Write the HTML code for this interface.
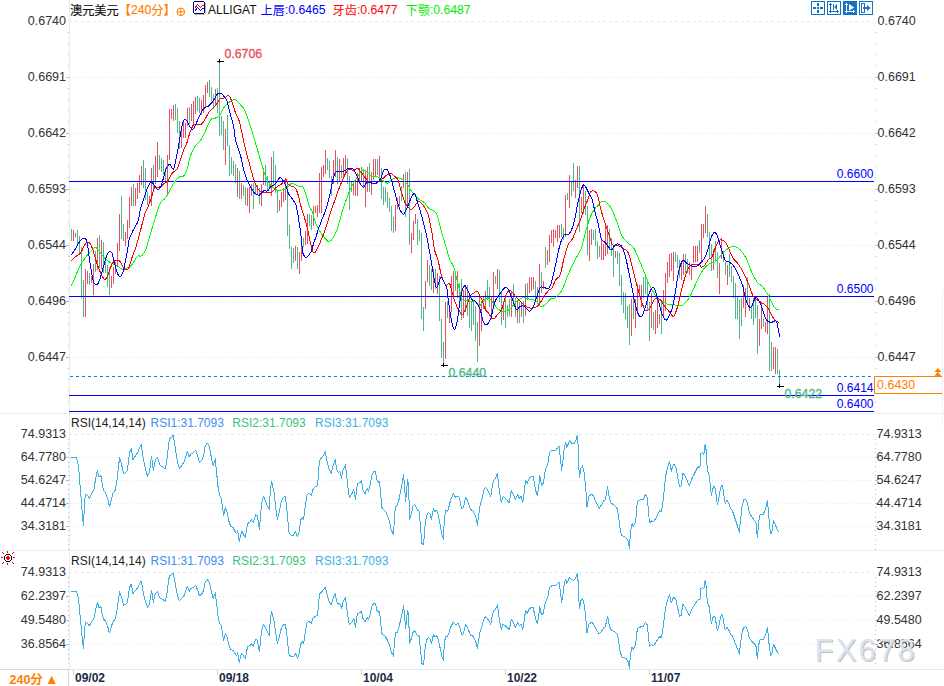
<!DOCTYPE html><html><head><meta charset="utf-8"><style>html,body{margin:0;padding:0;background:#fff;width:944px;height:686px;overflow:hidden;position:relative}</style></head><body><svg width="944" height="686" viewBox="0 0 944 686" style="position:absolute;left:0;top:0">
<rect x="0" y="413" width="944" height="1" fill="#eaeef2"/>
<rect x="0" y="550" width="944" height="1" fill="#eaeef2"/>
<rect x="69" y="669" width="875" height="1" fill="#e3e8ee"/>
<rect x="0" y="669" width="69" height="1" fill="#d3d9e0"/>
<rect x="69" y="0" width="1" height="669" fill="#e6ebf0"/>
<rect x="68" y="670" width="1" height="16" fill="#d3d9e0"/>
<rect x="942" y="289" width="1" height="137" fill="#edf1f5"/>
<line x1="69" y1="21.5" x2="874" y2="21.5" stroke="#e4e9ee" stroke-width="1" stroke-dasharray="3 3" shape-rendering="crispEdges"/>
<line x1="70" y1="77.5" x2="874" y2="77.5" stroke="#e4e9ee" stroke-width="1" stroke-dasharray="1 2" shape-rendering="crispEdges"/>
<line x1="70" y1="133.5" x2="874" y2="133.5" stroke="#e4e9ee" stroke-width="1" stroke-dasharray="1 2" shape-rendering="crispEdges"/>
<line x1="70" y1="189.5" x2="874" y2="189.5" stroke="#e4e9ee" stroke-width="1" stroke-dasharray="1 2" shape-rendering="crispEdges"/>
<line x1="70" y1="245.5" x2="874" y2="245.5" stroke="#e4e9ee" stroke-width="1" stroke-dasharray="1 2" shape-rendering="crispEdges"/>
<line x1="70" y1="301.5" x2="874" y2="301.5" stroke="#e4e9ee" stroke-width="1" stroke-dasharray="1 2" shape-rendering="crispEdges"/>
<line x1="70" y1="357.5" x2="874" y2="357.5" stroke="#e4e9ee" stroke-width="1" stroke-dasharray="1 2" shape-rendering="crispEdges"/>
<rect x="68" y="32" width="1" height="1" fill="#b4bcc4"/>
<rect x="875" y="32" width="1" height="1" fill="#b4bcc4"/>
<rect x="68" y="43" width="1" height="1" fill="#b4bcc4"/>
<rect x="875" y="43" width="1" height="1" fill="#b4bcc4"/>
<rect x="68" y="54" width="1" height="1" fill="#b4bcc4"/>
<rect x="875" y="54" width="1" height="1" fill="#b4bcc4"/>
<rect x="68" y="65" width="1" height="1" fill="#b4bcc4"/>
<rect x="875" y="65" width="1" height="1" fill="#b4bcc4"/>
<rect x="68" y="88" width="1" height="1" fill="#b4bcc4"/>
<rect x="875" y="88" width="1" height="1" fill="#b4bcc4"/>
<rect x="68" y="99" width="1" height="1" fill="#b4bcc4"/>
<rect x="875" y="99" width="1" height="1" fill="#b4bcc4"/>
<rect x="68" y="110" width="1" height="1" fill="#b4bcc4"/>
<rect x="875" y="110" width="1" height="1" fill="#b4bcc4"/>
<rect x="68" y="121" width="1" height="1" fill="#b4bcc4"/>
<rect x="875" y="121" width="1" height="1" fill="#b4bcc4"/>
<rect x="68" y="144" width="1" height="1" fill="#b4bcc4"/>
<rect x="875" y="144" width="1" height="1" fill="#b4bcc4"/>
<rect x="68" y="155" width="1" height="1" fill="#b4bcc4"/>
<rect x="875" y="155" width="1" height="1" fill="#b4bcc4"/>
<rect x="68" y="166" width="1" height="1" fill="#b4bcc4"/>
<rect x="875" y="166" width="1" height="1" fill="#b4bcc4"/>
<rect x="68" y="177" width="1" height="1" fill="#b4bcc4"/>
<rect x="875" y="177" width="1" height="1" fill="#b4bcc4"/>
<rect x="68" y="200" width="1" height="1" fill="#b4bcc4"/>
<rect x="875" y="200" width="1" height="1" fill="#b4bcc4"/>
<rect x="68" y="211" width="1" height="1" fill="#b4bcc4"/>
<rect x="875" y="211" width="1" height="1" fill="#b4bcc4"/>
<rect x="68" y="222" width="1" height="1" fill="#b4bcc4"/>
<rect x="875" y="222" width="1" height="1" fill="#b4bcc4"/>
<rect x="68" y="233" width="1" height="1" fill="#b4bcc4"/>
<rect x="875" y="233" width="1" height="1" fill="#b4bcc4"/>
<rect x="68" y="256" width="1" height="1" fill="#b4bcc4"/>
<rect x="875" y="256" width="1" height="1" fill="#b4bcc4"/>
<rect x="68" y="267" width="1" height="1" fill="#b4bcc4"/>
<rect x="875" y="267" width="1" height="1" fill="#b4bcc4"/>
<rect x="68" y="278" width="1" height="1" fill="#b4bcc4"/>
<rect x="875" y="278" width="1" height="1" fill="#b4bcc4"/>
<rect x="68" y="289" width="1" height="1" fill="#b4bcc4"/>
<rect x="875" y="289" width="1" height="1" fill="#b4bcc4"/>
<rect x="68" y="312" width="1" height="1" fill="#b4bcc4"/>
<rect x="875" y="312" width="1" height="1" fill="#b4bcc4"/>
<rect x="68" y="323" width="1" height="1" fill="#b4bcc4"/>
<rect x="875" y="323" width="1" height="1" fill="#b4bcc4"/>
<rect x="68" y="334" width="1" height="1" fill="#b4bcc4"/>
<rect x="875" y="334" width="1" height="1" fill="#b4bcc4"/>
<rect x="68" y="345" width="1" height="1" fill="#b4bcc4"/>
<rect x="875" y="345" width="1" height="1" fill="#b4bcc4"/>
<rect x="68" y="368" width="1" height="1" fill="#b4bcc4"/>
<rect x="875" y="368" width="1" height="1" fill="#b4bcc4"/>
<rect x="68" y="379" width="1" height="1" fill="#b4bcc4"/>
<rect x="875" y="379" width="1" height="1" fill="#b4bcc4"/>
<rect x="68" y="390" width="1" height="1" fill="#b4bcc4"/>
<rect x="875" y="390" width="1" height="1" fill="#b4bcc4"/>
<rect x="68" y="401" width="1" height="1" fill="#b4bcc4"/>
<rect x="875" y="401" width="1" height="1" fill="#b4bcc4"/>
<rect x="66" y="77" width="3" height="1" fill="#b4bcc4"/>
<rect x="875" y="77" width="3" height="1" fill="#b4bcc4"/>
<rect x="66" y="133" width="3" height="1" fill="#b4bcc4"/>
<rect x="875" y="133" width="3" height="1" fill="#b4bcc4"/>
<rect x="66" y="189" width="3" height="1" fill="#b4bcc4"/>
<rect x="875" y="189" width="3" height="1" fill="#b4bcc4"/>
<rect x="66" y="245" width="3" height="1" fill="#b4bcc4"/>
<rect x="875" y="245" width="3" height="1" fill="#b4bcc4"/>
<rect x="66" y="301" width="3" height="1" fill="#b4bcc4"/>
<rect x="875" y="301" width="3" height="1" fill="#b4bcc4"/>
<rect x="66" y="357" width="3" height="1" fill="#b4bcc4"/>
<rect x="875" y="357" width="3" height="1" fill="#b4bcc4"/>
<line x1="69" y1="434.5" x2="874" y2="434.5" stroke="#e4e9ee" stroke-width="1" stroke-dasharray="3 3" shape-rendering="crispEdges"/>
<line x1="70" y1="457.5" x2="874" y2="457.5" stroke="#e4e9ee" stroke-width="1" stroke-dasharray="1 2" shape-rendering="crispEdges"/>
<line x1="70" y1="480.5" x2="874" y2="480.5" stroke="#e4e9ee" stroke-width="1" stroke-dasharray="1 2" shape-rendering="crispEdges"/>
<line x1="70" y1="503.5" x2="874" y2="503.5" stroke="#e4e9ee" stroke-width="1" stroke-dasharray="1 2" shape-rendering="crispEdges"/>
<line x1="70" y1="526.5" x2="874" y2="526.5" stroke="#e4e9ee" stroke-width="1" stroke-dasharray="1 2" shape-rendering="crispEdges"/>
<rect x="68" y="439" width="1" height="1" fill="#b4bcc4"/>
<rect x="875" y="439" width="1" height="1" fill="#b4bcc4"/>
<rect x="68" y="443" width="1" height="1" fill="#b4bcc4"/>
<rect x="875" y="443" width="1" height="1" fill="#b4bcc4"/>
<rect x="68" y="448" width="1" height="1" fill="#b4bcc4"/>
<rect x="875" y="448" width="1" height="1" fill="#b4bcc4"/>
<rect x="68" y="452" width="1" height="1" fill="#b4bcc4"/>
<rect x="875" y="452" width="1" height="1" fill="#b4bcc4"/>
<rect x="68" y="462" width="1" height="1" fill="#b4bcc4"/>
<rect x="875" y="462" width="1" height="1" fill="#b4bcc4"/>
<rect x="68" y="466" width="1" height="1" fill="#b4bcc4"/>
<rect x="875" y="466" width="1" height="1" fill="#b4bcc4"/>
<rect x="68" y="471" width="1" height="1" fill="#b4bcc4"/>
<rect x="875" y="471" width="1" height="1" fill="#b4bcc4"/>
<rect x="68" y="475" width="1" height="1" fill="#b4bcc4"/>
<rect x="875" y="475" width="1" height="1" fill="#b4bcc4"/>
<rect x="68" y="484" width="1" height="1" fill="#b4bcc4"/>
<rect x="875" y="484" width="1" height="1" fill="#b4bcc4"/>
<rect x="68" y="489" width="1" height="1" fill="#b4bcc4"/>
<rect x="875" y="489" width="1" height="1" fill="#b4bcc4"/>
<rect x="68" y="494" width="1" height="1" fill="#b4bcc4"/>
<rect x="875" y="494" width="1" height="1" fill="#b4bcc4"/>
<rect x="68" y="498" width="1" height="1" fill="#b4bcc4"/>
<rect x="875" y="498" width="1" height="1" fill="#b4bcc4"/>
<rect x="68" y="507" width="1" height="1" fill="#b4bcc4"/>
<rect x="875" y="507" width="1" height="1" fill="#b4bcc4"/>
<rect x="68" y="512" width="1" height="1" fill="#b4bcc4"/>
<rect x="875" y="512" width="1" height="1" fill="#b4bcc4"/>
<rect x="68" y="517" width="1" height="1" fill="#b4bcc4"/>
<rect x="875" y="517" width="1" height="1" fill="#b4bcc4"/>
<rect x="68" y="521" width="1" height="1" fill="#b4bcc4"/>
<rect x="875" y="521" width="1" height="1" fill="#b4bcc4"/>
<rect x="68" y="530" width="1" height="1" fill="#b4bcc4"/>
<rect x="875" y="530" width="1" height="1" fill="#b4bcc4"/>
<rect x="68" y="535" width="1" height="1" fill="#b4bcc4"/>
<rect x="875" y="535" width="1" height="1" fill="#b4bcc4"/>
<rect x="68" y="540" width="1" height="1" fill="#b4bcc4"/>
<rect x="875" y="540" width="1" height="1" fill="#b4bcc4"/>
<rect x="68" y="544" width="1" height="1" fill="#b4bcc4"/>
<rect x="875" y="544" width="1" height="1" fill="#b4bcc4"/>
<rect x="68" y="549" width="1" height="1" fill="#b4bcc4"/>
<rect x="875" y="549" width="1" height="1" fill="#b4bcc4"/>
<rect x="66" y="457" width="3" height="1" fill="#b4bcc4"/>
<rect x="875" y="457" width="3" height="1" fill="#b4bcc4"/>
<rect x="66" y="480" width="3" height="1" fill="#b4bcc4"/>
<rect x="875" y="480" width="3" height="1" fill="#b4bcc4"/>
<rect x="66" y="503" width="3" height="1" fill="#b4bcc4"/>
<rect x="875" y="503" width="3" height="1" fill="#b4bcc4"/>
<rect x="66" y="526" width="3" height="1" fill="#b4bcc4"/>
<rect x="875" y="526" width="3" height="1" fill="#b4bcc4"/>
<line x1="69" y1="572.5" x2="874" y2="572.5" stroke="#e4e9ee" stroke-width="1" stroke-dasharray="3 3" shape-rendering="crispEdges"/>
<line x1="70" y1="596.5" x2="874" y2="596.5" stroke="#e4e9ee" stroke-width="1" stroke-dasharray="1 2" shape-rendering="crispEdges"/>
<line x1="70" y1="620.5" x2="874" y2="620.5" stroke="#e4e9ee" stroke-width="1" stroke-dasharray="1 2" shape-rendering="crispEdges"/>
<line x1="70" y1="644.5" x2="874" y2="644.5" stroke="#e4e9ee" stroke-width="1" stroke-dasharray="1 2" shape-rendering="crispEdges"/>
<rect x="68" y="577" width="1" height="1" fill="#b4bcc4"/>
<rect x="875" y="577" width="1" height="1" fill="#b4bcc4"/>
<rect x="68" y="582" width="1" height="1" fill="#b4bcc4"/>
<rect x="875" y="582" width="1" height="1" fill="#b4bcc4"/>
<rect x="68" y="586" width="1" height="1" fill="#b4bcc4"/>
<rect x="875" y="586" width="1" height="1" fill="#b4bcc4"/>
<rect x="68" y="591" width="1" height="1" fill="#b4bcc4"/>
<rect x="875" y="591" width="1" height="1" fill="#b4bcc4"/>
<rect x="68" y="601" width="1" height="1" fill="#b4bcc4"/>
<rect x="875" y="601" width="1" height="1" fill="#b4bcc4"/>
<rect x="68" y="606" width="1" height="1" fill="#b4bcc4"/>
<rect x="875" y="606" width="1" height="1" fill="#b4bcc4"/>
<rect x="68" y="610" width="1" height="1" fill="#b4bcc4"/>
<rect x="875" y="610" width="1" height="1" fill="#b4bcc4"/>
<rect x="68" y="615" width="1" height="1" fill="#b4bcc4"/>
<rect x="875" y="615" width="1" height="1" fill="#b4bcc4"/>
<rect x="68" y="625" width="1" height="1" fill="#b4bcc4"/>
<rect x="875" y="625" width="1" height="1" fill="#b4bcc4"/>
<rect x="68" y="630" width="1" height="1" fill="#b4bcc4"/>
<rect x="875" y="630" width="1" height="1" fill="#b4bcc4"/>
<rect x="68" y="634" width="1" height="1" fill="#b4bcc4"/>
<rect x="875" y="634" width="1" height="1" fill="#b4bcc4"/>
<rect x="68" y="639" width="1" height="1" fill="#b4bcc4"/>
<rect x="875" y="639" width="1" height="1" fill="#b4bcc4"/>
<rect x="68" y="649" width="1" height="1" fill="#b4bcc4"/>
<rect x="875" y="649" width="1" height="1" fill="#b4bcc4"/>
<rect x="68" y="654" width="1" height="1" fill="#b4bcc4"/>
<rect x="875" y="654" width="1" height="1" fill="#b4bcc4"/>
<rect x="68" y="658" width="1" height="1" fill="#b4bcc4"/>
<rect x="875" y="658" width="1" height="1" fill="#b4bcc4"/>
<rect x="68" y="663" width="1" height="1" fill="#b4bcc4"/>
<rect x="875" y="663" width="1" height="1" fill="#b4bcc4"/>
<rect x="66" y="596" width="3" height="1" fill="#b4bcc4"/>
<rect x="875" y="596" width="3" height="1" fill="#b4bcc4"/>
<rect x="66" y="620" width="3" height="1" fill="#b4bcc4"/>
<rect x="875" y="620" width="3" height="1" fill="#b4bcc4"/>
<rect x="66" y="644" width="3" height="1" fill="#b4bcc4"/>
<rect x="875" y="644" width="3" height="1" fill="#b4bcc4"/>
<text x="66" y="25" font-family="Liberation Sans, Arial, sans-serif" font-size="12.5" font-weight="normal" fill="#333" text-anchor="end">0.6740</text>
<text x="877.5" y="25" font-family="Liberation Sans, Arial, sans-serif" font-size="12.5" font-weight="normal" fill="#333" text-anchor="start">0.6740</text>
<text x="66" y="81" font-family="Liberation Sans, Arial, sans-serif" font-size="12.5" font-weight="normal" fill="#333" text-anchor="end">0.6691</text>
<text x="877.5" y="81" font-family="Liberation Sans, Arial, sans-serif" font-size="12.5" font-weight="normal" fill="#333" text-anchor="start">0.6691</text>
<text x="66" y="137" font-family="Liberation Sans, Arial, sans-serif" font-size="12.5" font-weight="normal" fill="#333" text-anchor="end">0.6642</text>
<text x="877.5" y="137" font-family="Liberation Sans, Arial, sans-serif" font-size="12.5" font-weight="normal" fill="#333" text-anchor="start">0.6642</text>
<text x="66" y="193" font-family="Liberation Sans, Arial, sans-serif" font-size="12.5" font-weight="normal" fill="#333" text-anchor="end">0.6593</text>
<text x="877.5" y="193" font-family="Liberation Sans, Arial, sans-serif" font-size="12.5" font-weight="normal" fill="#333" text-anchor="start">0.6593</text>
<text x="66" y="249" font-family="Liberation Sans, Arial, sans-serif" font-size="12.5" font-weight="normal" fill="#333" text-anchor="end">0.6544</text>
<text x="877.5" y="249" font-family="Liberation Sans, Arial, sans-serif" font-size="12.5" font-weight="normal" fill="#333" text-anchor="start">0.6544</text>
<text x="66" y="305" font-family="Liberation Sans, Arial, sans-serif" font-size="12.5" font-weight="normal" fill="#333" text-anchor="end">0.6496</text>
<text x="877.5" y="305" font-family="Liberation Sans, Arial, sans-serif" font-size="12.5" font-weight="normal" fill="#333" text-anchor="start">0.6496</text>
<text x="66" y="361" font-family="Liberation Sans, Arial, sans-serif" font-size="12.5" font-weight="normal" fill="#333" text-anchor="end">0.6447</text>
<text x="877.5" y="361" font-family="Liberation Sans, Arial, sans-serif" font-size="12.5" font-weight="normal" fill="#333" text-anchor="start">0.6447</text>
<text x="66" y="438" font-family="Liberation Sans, Arial, sans-serif" font-size="12.5" font-weight="normal" fill="#333" text-anchor="end">74.9313</text>
<text x="876.5" y="438" font-family="Liberation Sans, Arial, sans-serif" font-size="12.5" font-weight="normal" fill="#333" text-anchor="start">74.9313</text>
<text x="66" y="461" font-family="Liberation Sans, Arial, sans-serif" font-size="12.5" font-weight="normal" fill="#333" text-anchor="end">64.7780</text>
<text x="876.5" y="461" font-family="Liberation Sans, Arial, sans-serif" font-size="12.5" font-weight="normal" fill="#333" text-anchor="start">64.7780</text>
<text x="66" y="484" font-family="Liberation Sans, Arial, sans-serif" font-size="12.5" font-weight="normal" fill="#333" text-anchor="end">54.6247</text>
<text x="876.5" y="484" font-family="Liberation Sans, Arial, sans-serif" font-size="12.5" font-weight="normal" fill="#333" text-anchor="start">54.6247</text>
<text x="66" y="507" font-family="Liberation Sans, Arial, sans-serif" font-size="12.5" font-weight="normal" fill="#333" text-anchor="end">44.4714</text>
<text x="876.5" y="507" font-family="Liberation Sans, Arial, sans-serif" font-size="12.5" font-weight="normal" fill="#333" text-anchor="start">44.4714</text>
<text x="66" y="530" font-family="Liberation Sans, Arial, sans-serif" font-size="12.5" font-weight="normal" fill="#333" text-anchor="end">34.3181</text>
<text x="876.5" y="530" font-family="Liberation Sans, Arial, sans-serif" font-size="12.5" font-weight="normal" fill="#333" text-anchor="start">34.3181</text>
<text x="66" y="576" font-family="Liberation Sans, Arial, sans-serif" font-size="12.5" font-weight="normal" fill="#333" text-anchor="end">74.9313</text>
<text x="876.5" y="576" font-family="Liberation Sans, Arial, sans-serif" font-size="12.5" font-weight="normal" fill="#333" text-anchor="start">74.9313</text>
<text x="66" y="600" font-family="Liberation Sans, Arial, sans-serif" font-size="12.5" font-weight="normal" fill="#333" text-anchor="end">62.2397</text>
<text x="876.5" y="600" font-family="Liberation Sans, Arial, sans-serif" font-size="12.5" font-weight="normal" fill="#333" text-anchor="start">62.2397</text>
<text x="66" y="624" font-family="Liberation Sans, Arial, sans-serif" font-size="12.5" font-weight="normal" fill="#333" text-anchor="end">49.5480</text>
<text x="876.5" y="624" font-family="Liberation Sans, Arial, sans-serif" font-size="12.5" font-weight="normal" fill="#333" text-anchor="start">49.5480</text>
<text x="66" y="648" font-family="Liberation Sans, Arial, sans-serif" font-size="12.5" font-weight="normal" fill="#333" text-anchor="end">36.8564</text>
<text x="876.5" y="648" font-family="Liberation Sans, Arial, sans-serif" font-size="12.5" font-weight="normal" fill="#333" text-anchor="start">36.8564</text>
<rect x="71" y="229" width="1" height="12" fill="#52b788"/>
<rect x="73" y="230" width="1" height="11" fill="#e8505f"/>
<rect x="75" y="233" width="1" height="4" fill="#e8505f"/>
<rect x="77" y="230" width="1" height="14" fill="#52b788"/>
<rect x="79" y="236" width="1" height="18" fill="#52b788"/>
<rect x="81" y="247" width="1" height="51" fill="#52b788"/>
<rect x="83" y="280" width="1" height="37" fill="#52b788"/>
<rect x="85" y="269" width="1" height="48" fill="#e8505f"/>
<rect x="87" y="271" width="1" height="13" fill="#e8505f"/>
<rect x="89" y="273" width="1" height="12" fill="#52b788"/>
<rect x="91" y="276" width="1" height="7" fill="#e8505f"/>
<rect x="93" y="264" width="1" height="31" fill="#e8505f"/>
<rect x="95" y="251" width="1" height="21" fill="#52b788"/>
<rect x="97" y="238" width="1" height="32" fill="#e8505f"/>
<rect x="99" y="235" width="1" height="33" fill="#52b788"/>
<rect x="101" y="240" width="1" height="29" fill="#e8505f"/>
<rect x="103" y="242" width="1" height="31" fill="#52b788"/>
<rect x="105" y="257" width="1" height="16" fill="#52b788"/>
<rect x="107" y="265" width="1" height="22" fill="#52b788"/>
<rect x="109" y="267" width="1" height="28" fill="#52b788"/>
<rect x="111" y="276" width="1" height="12" fill="#e8505f"/>
<rect x="113" y="267" width="1" height="17" fill="#e8505f"/>
<rect x="115" y="262" width="1" height="12" fill="#e8505f"/>
<rect x="117" y="243" width="1" height="23" fill="#e8505f"/>
<rect x="119" y="214" width="1" height="37" fill="#e8505f"/>
<rect x="121" y="196" width="1" height="43" fill="#52b788"/>
<rect x="123" y="224" width="1" height="17" fill="#52b788"/>
<rect x="125" y="232" width="1" height="14" fill="#e8505f"/>
<rect x="127" y="220" width="1" height="19" fill="#e8505f"/>
<rect x="129" y="197" width="1" height="31" fill="#e8505f"/>
<rect x="131" y="187" width="1" height="19" fill="#e8505f"/>
<rect x="133" y="184" width="1" height="22" fill="#52b788"/>
<rect x="135" y="188" width="1" height="18" fill="#e8505f"/>
<rect x="137" y="183" width="1" height="16" fill="#e8505f"/>
<rect x="139" y="175" width="1" height="18" fill="#e8505f"/>
<rect x="141" y="166" width="1" height="19" fill="#e8505f"/>
<rect x="143" y="160" width="1" height="28" fill="#52b788"/>
<rect x="145" y="168" width="1" height="32" fill="#52b788"/>
<rect x="147" y="192" width="1" height="13" fill="#52b788"/>
<rect x="149" y="196" width="1" height="8" fill="#e8505f"/>
<rect x="151" y="168" width="1" height="38" fill="#e8505f"/>
<rect x="153" y="165" width="1" height="24" fill="#52b788"/>
<rect x="155" y="156" width="1" height="28" fill="#e8505f"/>
<rect x="157" y="142" width="1" height="35" fill="#e8505f"/>
<rect x="159" y="155" width="1" height="15" fill="#52b788"/>
<rect x="161" y="158" width="1" height="14" fill="#52b788"/>
<rect x="163" y="160" width="1" height="15" fill="#52b788"/>
<rect x="165" y="168" width="1" height="14" fill="#52b788"/>
<rect x="167" y="155" width="1" height="39" fill="#e8505f"/>
<rect x="169" y="109" width="1" height="51" fill="#e8505f"/>
<rect x="171" y="109" width="1" height="10" fill="#e8505f"/>
<rect x="173" y="105" width="1" height="16" fill="#e8505f"/>
<rect x="175" y="104" width="1" height="16" fill="#52b788"/>
<rect x="177" y="108" width="1" height="25" fill="#52b788"/>
<rect x="179" y="121" width="1" height="28" fill="#52b788"/>
<rect x="181" y="131" width="1" height="17" fill="#e8505f"/>
<rect x="183" y="122" width="1" height="16" fill="#e8505f"/>
<rect x="185" y="123" width="1" height="15" fill="#e8505f"/>
<rect x="187" y="108" width="1" height="18" fill="#e8505f"/>
<rect x="189" y="107" width="1" height="17" fill="#52b788"/>
<rect x="191" y="104" width="1" height="17" fill="#e8505f"/>
<rect x="193" y="101" width="1" height="23" fill="#e8505f"/>
<rect x="195" y="97" width="1" height="17" fill="#e8505f"/>
<rect x="197" y="96" width="1" height="15" fill="#52b788"/>
<rect x="199" y="98" width="1" height="15" fill="#52b788"/>
<rect x="201" y="100" width="1" height="15" fill="#e8505f"/>
<rect x="203" y="95" width="1" height="18" fill="#e8505f"/>
<rect x="205" y="85" width="1" height="22" fill="#e8505f"/>
<rect x="207" y="82" width="1" height="11" fill="#e8505f"/>
<rect x="209" y="80" width="1" height="17" fill="#52b788"/>
<rect x="211" y="87" width="1" height="14" fill="#52b788"/>
<rect x="213" y="94" width="1" height="15" fill="#52b788"/>
<rect x="215" y="89" width="1" height="17" fill="#e8505f"/>
<rect x="217" y="88" width="1" height="25" fill="#52b788"/>
<rect x="219" y="61" width="1" height="75" fill="#52b788"/>
<rect x="221" y="116" width="1" height="19" fill="#52b788"/>
<rect x="223" y="121" width="1" height="29" fill="#52b788"/>
<rect x="225" y="129" width="1" height="36" fill="#e8505f"/>
<rect x="227" y="115" width="1" height="31" fill="#52b788"/>
<rect x="229" y="145" width="1" height="31" fill="#52b788"/>
<rect x="231" y="157" width="1" height="17" fill="#52b788"/>
<rect x="233" y="161" width="1" height="15" fill="#52b788"/>
<rect x="235" y="164" width="1" height="19" fill="#52b788"/>
<rect x="237" y="168" width="1" height="29" fill="#e8505f"/>
<rect x="239" y="171" width="1" height="28" fill="#52b788"/>
<rect x="241" y="183" width="1" height="16" fill="#e8505f"/>
<rect x="243" y="185" width="1" height="11" fill="#52b788"/>
<rect x="245" y="187" width="1" height="18" fill="#52b788"/>
<rect x="247" y="188" width="1" height="18" fill="#e8505f"/>
<rect x="249" y="187" width="1" height="26" fill="#e8505f"/>
<rect x="251" y="184" width="1" height="12" fill="#e8505f"/>
<rect x="253" y="183" width="1" height="26" fill="#52b788"/>
<rect x="255" y="185" width="1" height="10" fill="#52b788"/>
<rect x="257" y="185" width="1" height="10" fill="#e8505f"/>
<rect x="259" y="188" width="1" height="16" fill="#52b788"/>
<rect x="261" y="184" width="1" height="22" fill="#e8505f"/>
<rect x="263" y="170" width="1" height="15" fill="#e8505f"/>
<rect x="265" y="165" width="1" height="21" fill="#52b788"/>
<rect x="267" y="176" width="1" height="15" fill="#52b788"/>
<rect x="269" y="181" width="1" height="8" fill="#52b788"/>
<rect x="271" y="157" width="1" height="39" fill="#e8505f"/>
<rect x="273" y="151" width="1" height="35" fill="#52b788"/>
<rect x="275" y="165" width="1" height="28" fill="#52b788"/>
<rect x="277" y="190" width="1" height="23" fill="#52b788"/>
<rect x="279" y="200" width="1" height="11" fill="#e8505f"/>
<rect x="281" y="192" width="1" height="15" fill="#e8505f"/>
<rect x="283" y="188" width="1" height="14" fill="#e8505f"/>
<rect x="285" y="178" width="1" height="22" fill="#e8505f"/>
<rect x="287" y="181" width="1" height="55" fill="#52b788"/>
<rect x="289" y="225" width="1" height="24" fill="#52b788"/>
<rect x="291" y="247" width="1" height="22" fill="#52b788"/>
<rect x="293" y="248" width="1" height="15" fill="#52b788"/>
<rect x="295" y="246" width="1" height="15" fill="#e8505f"/>
<rect x="297" y="247" width="1" height="22" fill="#52b788"/>
<rect x="299" y="252" width="1" height="22" fill="#e8505f"/>
<rect x="301" y="244" width="1" height="17" fill="#e8505f"/>
<rect x="303" y="238" width="1" height="9" fill="#52b788"/>
<rect x="305" y="231" width="1" height="14" fill="#e8505f"/>
<rect x="307" y="214" width="1" height="30" fill="#e8505f"/>
<rect x="309" y="214" width="1" height="12" fill="#52b788"/>
<rect x="311" y="215" width="1" height="15" fill="#52b788"/>
<rect x="313" y="206" width="1" height="20" fill="#e8505f"/>
<rect x="315" y="206" width="1" height="7" fill="#e8505f"/>
<rect x="317" y="205" width="1" height="12" fill="#e8505f"/>
<rect x="319" y="173" width="1" height="40" fill="#e8505f"/>
<rect x="321" y="167" width="1" height="46" fill="#e8505f"/>
<rect x="323" y="165" width="1" height="12" fill="#e8505f"/>
<rect x="325" y="150" width="1" height="24" fill="#e8505f"/>
<rect x="327" y="158" width="1" height="12" fill="#52b788"/>
<rect x="329" y="161" width="1" height="17" fill="#52b788"/>
<rect x="331" y="176" width="1" height="20" fill="#52b788"/>
<rect x="333" y="160" width="1" height="24" fill="#e8505f"/>
<rect x="335" y="150" width="1" height="27" fill="#e8505f"/>
<rect x="337" y="157" width="1" height="27" fill="#52b788"/>
<rect x="339" y="159" width="1" height="23" fill="#e8505f"/>
<rect x="341" y="165" width="1" height="13" fill="#52b788"/>
<rect x="343" y="158" width="1" height="19" fill="#e8505f"/>
<rect x="345" y="155" width="1" height="20" fill="#e8505f"/>
<rect x="347" y="158" width="1" height="26" fill="#52b788"/>
<rect x="349" y="176" width="1" height="34" fill="#52b788"/>
<rect x="351" y="181" width="1" height="11" fill="#52b788"/>
<rect x="353" y="182" width="1" height="13" fill="#e8505f"/>
<rect x="355" y="181" width="1" height="15" fill="#e8505f"/>
<rect x="357" y="173" width="1" height="23" fill="#e8505f"/>
<rect x="359" y="168" width="1" height="16" fill="#e8505f"/>
<rect x="361" y="167" width="1" height="15" fill="#e8505f"/>
<rect x="363" y="170" width="1" height="17" fill="#52b788"/>
<rect x="365" y="172" width="1" height="35" fill="#e8505f"/>
<rect x="367" y="167" width="1" height="25" fill="#e8505f"/>
<rect x="369" y="163" width="1" height="29" fill="#52b788"/>
<rect x="371" y="172" width="1" height="23" fill="#e8505f"/>
<rect x="373" y="159" width="1" height="21" fill="#e8505f"/>
<rect x="375" y="159" width="1" height="18" fill="#e8505f"/>
<rect x="377" y="159" width="1" height="16" fill="#52b788"/>
<rect x="379" y="156" width="1" height="25" fill="#e8505f"/>
<rect x="381" y="168" width="1" height="31" fill="#52b788"/>
<rect x="383" y="187" width="1" height="18" fill="#52b788"/>
<rect x="385" y="187" width="1" height="15" fill="#52b788"/>
<rect x="387" y="192" width="1" height="16" fill="#52b788"/>
<rect x="389" y="198" width="1" height="14" fill="#52b788"/>
<rect x="391" y="206" width="1" height="25" fill="#52b788"/>
<rect x="393" y="217" width="1" height="16" fill="#52b788"/>
<rect x="395" y="205" width="1" height="26" fill="#e8505f"/>
<rect x="397" y="198" width="1" height="11" fill="#e8505f"/>
<rect x="399" y="196" width="1" height="10" fill="#e8505f"/>
<rect x="401" y="186" width="1" height="15" fill="#52b788"/>
<rect x="403" y="174" width="1" height="14" fill="#e8505f"/>
<rect x="405" y="172" width="1" height="45" fill="#52b788"/>
<rect x="407" y="172" width="1" height="34" fill="#e8505f"/>
<rect x="409" y="169" width="1" height="76" fill="#52b788"/>
<rect x="411" y="233" width="1" height="20" fill="#e8505f"/>
<rect x="413" y="221" width="1" height="19" fill="#e8505f"/>
<rect x="415" y="214" width="1" height="10" fill="#e8505f"/>
<rect x="417" y="219" width="1" height="26" fill="#52b788"/>
<rect x="419" y="230" width="1" height="11" fill="#52b788"/>
<rect x="421" y="233" width="1" height="86" fill="#52b788"/>
<rect x="423" y="307" width="1" height="24" fill="#52b788"/>
<rect x="425" y="281" width="1" height="28" fill="#e8505f"/>
<rect x="427" y="260" width="1" height="22" fill="#e8505f"/>
<rect x="429" y="265" width="1" height="21" fill="#52b788"/>
<rect x="431" y="269" width="1" height="21" fill="#52b788"/>
<rect x="433" y="269" width="1" height="24" fill="#e8505f"/>
<rect x="435" y="269" width="1" height="20" fill="#52b788"/>
<rect x="437" y="273" width="1" height="21" fill="#e8505f"/>
<rect x="439" y="276" width="1" height="45" fill="#52b788"/>
<rect x="441" y="319" width="1" height="39" fill="#52b788"/>
<rect x="443" y="342" width="1" height="25" fill="#52b788"/>
<rect x="445" y="302" width="1" height="57" fill="#e8505f"/>
<rect x="447" y="301" width="1" height="17" fill="#52b788"/>
<rect x="449" y="307" width="1" height="16" fill="#e8505f"/>
<rect x="451" y="276" width="1" height="36" fill="#e8505f"/>
<rect x="453" y="271" width="1" height="26" fill="#e8505f"/>
<rect x="455" y="271" width="1" height="20" fill="#52b788"/>
<rect x="457" y="271" width="1" height="27" fill="#e8505f"/>
<rect x="459" y="283" width="1" height="22" fill="#52b788"/>
<rect x="461" y="279" width="1" height="41" fill="#52b788"/>
<rect x="463" y="290" width="1" height="28" fill="#e8505f"/>
<rect x="465" y="285" width="1" height="27" fill="#e8505f"/>
<rect x="467" y="285" width="1" height="31" fill="#52b788"/>
<rect x="469" y="294" width="1" height="34" fill="#52b788"/>
<rect x="471" y="302" width="1" height="29" fill="#52b788"/>
<rect x="473" y="302" width="1" height="23" fill="#52b788"/>
<rect x="475" y="306" width="1" height="35" fill="#52b788"/>
<rect x="477" y="322" width="1" height="40" fill="#52b788"/>
<rect x="479" y="296" width="1" height="50" fill="#e8505f"/>
<rect x="481" y="301" width="1" height="30" fill="#e8505f"/>
<rect x="483" y="296" width="1" height="13" fill="#e8505f"/>
<rect x="485" y="291" width="1" height="18" fill="#e8505f"/>
<rect x="487" y="280" width="1" height="20" fill="#52b788"/>
<rect x="489" y="287" width="1" height="20" fill="#52b788"/>
<rect x="491" y="296" width="1" height="21" fill="#e8505f"/>
<rect x="493" y="272" width="1" height="37" fill="#e8505f"/>
<rect x="495" y="276" width="1" height="8" fill="#52b788"/>
<rect x="497" y="269" width="1" height="20" fill="#e8505f"/>
<rect x="499" y="270" width="1" height="32" fill="#52b788"/>
<rect x="501" y="292" width="1" height="33" fill="#52b788"/>
<rect x="503" y="301" width="1" height="19" fill="#e8505f"/>
<rect x="505" y="297" width="1" height="31" fill="#52b788"/>
<rect x="507" y="305" width="1" height="12" fill="#52b788"/>
<rect x="509" y="299" width="1" height="17" fill="#52b788"/>
<rect x="511" y="292" width="1" height="25" fill="#e8505f"/>
<rect x="513" y="284" width="1" height="21" fill="#52b788"/>
<rect x="515" y="298" width="1" height="19" fill="#52b788"/>
<rect x="517" y="301" width="1" height="22" fill="#e8505f"/>
<rect x="519" y="302" width="1" height="21" fill="#52b788"/>
<rect x="521" y="302" width="1" height="15" fill="#e8505f"/>
<rect x="523" y="301" width="1" height="22" fill="#52b788"/>
<rect x="525" y="284" width="1" height="32" fill="#e8505f"/>
<rect x="527" y="283" width="1" height="17" fill="#52b788"/>
<rect x="529" y="277" width="1" height="16" fill="#e8505f"/>
<rect x="531" y="277" width="1" height="14" fill="#e8505f"/>
<rect x="533" y="277" width="1" height="12" fill="#e8505f"/>
<rect x="535" y="281" width="1" height="19" fill="#52b788"/>
<rect x="537" y="287" width="1" height="16" fill="#52b788"/>
<rect x="539" y="264" width="1" height="40" fill="#e8505f"/>
<rect x="541" y="272" width="1" height="21" fill="#52b788"/>
<rect x="543" y="281" width="1" height="8" fill="#e8505f"/>
<rect x="545" y="247" width="1" height="21" fill="#52b788"/>
<rect x="547" y="250" width="1" height="15" fill="#e8505f"/>
<rect x="549" y="235" width="1" height="27" fill="#e8505f"/>
<rect x="551" y="230" width="1" height="13" fill="#e8505f"/>
<rect x="553" y="229" width="1" height="18" fill="#e8505f"/>
<rect x="555" y="230" width="1" height="8" fill="#e8505f"/>
<rect x="557" y="225" width="1" height="17" fill="#e8505f"/>
<rect x="559" y="225" width="1" height="13" fill="#e8505f"/>
<rect x="561" y="224" width="1" height="13" fill="#52b788"/>
<rect x="563" y="228" width="1" height="12" fill="#52b788"/>
<rect x="565" y="195" width="1" height="42" fill="#e8505f"/>
<rect x="567" y="193" width="1" height="7" fill="#52b788"/>
<rect x="569" y="175" width="1" height="33" fill="#e8505f"/>
<rect x="571" y="181" width="1" height="15" fill="#52b788"/>
<rect x="573" y="163" width="1" height="28" fill="#52b788"/>
<rect x="575" y="180" width="1" height="18" fill="#e8505f"/>
<rect x="577" y="166" width="1" height="22" fill="#e8505f"/>
<rect x="579" y="166" width="1" height="66" fill="#52b788"/>
<rect x="581" y="197" width="1" height="16" fill="#e8505f"/>
<rect x="583" y="185" width="1" height="29" fill="#e8505f"/>
<rect x="585" y="191" width="1" height="24" fill="#52b788"/>
<rect x="587" y="206" width="1" height="49" fill="#52b788"/>
<rect x="589" y="230" width="1" height="31" fill="#e8505f"/>
<rect x="591" y="229" width="1" height="16" fill="#e8505f"/>
<rect x="593" y="230" width="1" height="10" fill="#52b788"/>
<rect x="595" y="229" width="1" height="17" fill="#52b788"/>
<rect x="597" y="241" width="1" height="18" fill="#52b788"/>
<rect x="599" y="246" width="1" height="11" fill="#52b788"/>
<rect x="601" y="239" width="1" height="21" fill="#e8505f"/>
<rect x="603" y="244" width="1" height="16" fill="#e8505f"/>
<rect x="605" y="225" width="1" height="31" fill="#e8505f"/>
<rect x="607" y="225" width="1" height="29" fill="#e8505f"/>
<rect x="609" y="229" width="1" height="21" fill="#52b788"/>
<rect x="611" y="238" width="1" height="18" fill="#52b788"/>
<rect x="613" y="246" width="1" height="31" fill="#52b788"/>
<rect x="615" y="251" width="1" height="7" fill="#e8505f"/>
<rect x="617" y="251" width="1" height="13" fill="#52b788"/>
<rect x="619" y="253" width="1" height="33" fill="#52b788"/>
<rect x="621" y="275" width="1" height="30" fill="#52b788"/>
<rect x="623" y="292" width="1" height="21" fill="#52b788"/>
<rect x="625" y="293" width="1" height="26" fill="#52b788"/>
<rect x="627" y="306" width="1" height="22" fill="#52b788"/>
<rect x="629" y="304" width="1" height="41" fill="#52b788"/>
<rect x="631" y="299" width="1" height="37" fill="#e8505f"/>
<rect x="633" y="293" width="1" height="26" fill="#52b788"/>
<rect x="635" y="299" width="1" height="29" fill="#e8505f"/>
<rect x="637" y="284" width="1" height="27" fill="#e8505f"/>
<rect x="639" y="285" width="1" height="11" fill="#e8505f"/>
<rect x="641" y="285" width="1" height="22" fill="#e8505f"/>
<rect x="643" y="277" width="1" height="21" fill="#52b788"/>
<rect x="645" y="277" width="1" height="17" fill="#52b788"/>
<rect x="647" y="279" width="1" height="32" fill="#52b788"/>
<rect x="649" y="302" width="1" height="39" fill="#52b788"/>
<rect x="651" y="293" width="1" height="35" fill="#e8505f"/>
<rect x="653" y="312" width="1" height="18" fill="#52b788"/>
<rect x="655" y="310" width="1" height="24" fill="#e8505f"/>
<rect x="657" y="297" width="1" height="31" fill="#e8505f"/>
<rect x="659" y="314" width="1" height="10" fill="#e8505f"/>
<rect x="661" y="302" width="1" height="32" fill="#52b788"/>
<rect x="663" y="290" width="1" height="26" fill="#e8505f"/>
<rect x="665" y="273" width="1" height="38" fill="#e8505f"/>
<rect x="667" y="262" width="1" height="21" fill="#e8505f"/>
<rect x="669" y="254" width="1" height="23" fill="#e8505f"/>
<rect x="671" y="253" width="1" height="18" fill="#e8505f"/>
<rect x="673" y="252" width="1" height="29" fill="#e8505f"/>
<rect x="675" y="252" width="1" height="10" fill="#52b788"/>
<rect x="677" y="255" width="1" height="13" fill="#52b788"/>
<rect x="679" y="260" width="1" height="18" fill="#52b788"/>
<rect x="681" y="263" width="1" height="17" fill="#e8505f"/>
<rect x="683" y="254" width="1" height="21" fill="#e8505f"/>
<rect x="685" y="254" width="1" height="19" fill="#52b788"/>
<rect x="687" y="259" width="1" height="14" fill="#52b788"/>
<rect x="689" y="262" width="1" height="13" fill="#e8505f"/>
<rect x="691" y="265" width="1" height="15" fill="#e8505f"/>
<rect x="693" y="246" width="1" height="17" fill="#e8505f"/>
<rect x="695" y="246" width="1" height="16" fill="#e8505f"/>
<rect x="697" y="246" width="1" height="16" fill="#e8505f"/>
<rect x="699" y="240" width="1" height="13" fill="#52b788"/>
<rect x="701" y="224" width="1" height="38" fill="#e8505f"/>
<rect x="703" y="224" width="1" height="14" fill="#e8505f"/>
<rect x="705" y="206" width="1" height="27" fill="#e8505f"/>
<rect x="707" y="214" width="1" height="23" fill="#52b788"/>
<rect x="709" y="232" width="1" height="27" fill="#52b788"/>
<rect x="711" y="244" width="1" height="27" fill="#52b788"/>
<rect x="713" y="249" width="1" height="21" fill="#e8505f"/>
<rect x="715" y="241" width="1" height="20" fill="#52b788"/>
<rect x="717" y="252" width="1" height="26" fill="#52b788"/>
<rect x="719" y="263" width="1" height="31" fill="#e8505f"/>
<rect x="721" y="238" width="1" height="21" fill="#e8505f"/>
<rect x="723" y="251" width="1" height="11" fill="#52b788"/>
<rect x="725" y="262" width="1" height="13" fill="#52b788"/>
<rect x="727" y="265" width="1" height="20" fill="#e8505f"/>
<rect x="729" y="254" width="1" height="23" fill="#52b788"/>
<rect x="731" y="266" width="1" height="16" fill="#52b788"/>
<rect x="733" y="276" width="1" height="22" fill="#52b788"/>
<rect x="735" y="283" width="1" height="36" fill="#52b788"/>
<rect x="737" y="296" width="1" height="23" fill="#52b788"/>
<rect x="739" y="300" width="1" height="39" fill="#52b788"/>
<rect x="741" y="298" width="1" height="28" fill="#52b788"/>
<rect x="743" y="285" width="1" height="23" fill="#e8505f"/>
<rect x="745" y="288" width="1" height="29" fill="#e8505f"/>
<rect x="747" y="277" width="1" height="27" fill="#52b788"/>
<rect x="749" y="298" width="1" height="13" fill="#e8505f"/>
<rect x="751" y="305" width="1" height="14" fill="#52b788"/>
<rect x="753" y="298" width="1" height="27" fill="#52b788"/>
<rect x="755" y="298" width="1" height="20" fill="#52b788"/>
<rect x="757" y="305" width="1" height="49" fill="#52b788"/>
<rect x="759" y="319" width="1" height="27" fill="#e8505f"/>
<rect x="761" y="303" width="1" height="26" fill="#e8505f"/>
<rect x="763" y="318" width="1" height="9" fill="#52b788"/>
<rect x="765" y="322" width="1" height="10" fill="#e8505f"/>
<rect x="767" y="296" width="1" height="38" fill="#e8505f"/>
<rect x="769" y="294" width="1" height="77" fill="#52b788"/>
<rect x="771" y="342" width="1" height="29" fill="#52b788"/>
<rect x="773" y="347" width="1" height="22" fill="#e8505f"/>
<rect x="775" y="347" width="1" height="27" fill="#e8505f"/>
<rect x="777" y="349" width="1" height="25" fill="#52b788"/>
<rect x="779" y="370" width="1" height="18" fill="#52b788"/>
<rect x="69" y="181" width="805" height="1" fill="#0000ff"/>
<rect x="69" y="296" width="805" height="1" fill="#0000ff"/>
<rect x="69" y="395" width="805" height="1" fill="#0000ff"/>
<rect x="69" y="411" width="805" height="1" fill="#0000ff"/>
<line x1="70" y1="376.5" x2="874" y2="376.5" stroke="#0080ff" stroke-width="1" stroke-dasharray="3 3" shape-rendering="crispEdges"/>
<path d="M71.0,286.0 C71.7,284.6 73.7,280.5 74.9,277.7 C76.1,274.9 77.2,271.9 78.4,269.3 C79.6,266.8 80.6,264.5 81.9,262.4 C83.2,260.3 84.6,258.6 86.0,256.9 C87.4,255.2 88.9,253.4 90.2,252.0 C91.5,250.6 92.7,249.4 93.6,248.6 C94.5,247.8 94.9,246.9 95.7,247.2 C96.5,247.5 97.5,249.3 98.5,250.6 C99.5,251.9 100.8,253.4 102.0,254.8 C103.2,256.2 104.1,257.7 105.4,258.9 C106.7,260.1 108.2,261.2 109.6,262.1 C111.0,263.0 112.3,263.4 113.7,264.1 C115.1,264.8 116.5,265.5 117.9,266.3 C119.3,267.1 120.8,268.6 122.0,269.1 C123.2,269.6 123.8,269.6 124.8,269.3 C125.8,269.1 126.5,268.4 127.7,267.6 C128.9,266.9 130.3,266.7 131.9,264.8 C133.5,262.9 135.8,258.0 137.4,256.5 C139.0,255.0 140.1,256.9 141.5,255.8 C142.9,254.7 144.3,252.9 145.7,249.6 C147.1,246.2 148.5,240.3 149.9,235.7 C151.3,231.1 152.7,226.1 154.0,221.9 C155.3,217.8 156.5,213.9 157.5,210.8 C158.5,207.7 159.1,205.1 160.2,203.2 C161.3,201.3 163.0,200.5 164.2,199.2 C165.4,197.8 166.2,197.0 167.3,195.1 C168.4,193.2 169.7,190.2 170.9,188.0 C172.2,185.8 173.3,183.5 174.8,181.6 C176.3,179.7 178.5,177.6 180.0,176.7 C181.5,175.8 182.4,177.6 183.6,176.2 C184.8,174.8 186.2,171.6 187.3,168.4 C188.4,165.2 188.8,160.8 190.0,157.3 C191.2,153.8 192.3,150.6 194.2,147.6 C196.0,144.6 199.0,142.5 201.1,139.3 C203.2,136.1 204.9,131.6 206.6,128.2 C208.3,124.8 209.7,120.8 211.2,119.1 C212.7,117.4 214.0,118.7 215.4,118.1 C216.8,117.5 218.2,117.3 219.6,115.6 C221.0,113.9 222.3,110.1 223.7,108.0 C225.1,105.9 226.5,104.5 227.9,103.2 C229.3,101.9 230.7,101.0 232.0,100.4 C233.3,99.8 234.3,98.9 235.5,99.4 C236.7,99.9 237.6,101.7 239.0,103.2 C240.4,104.8 242.4,106.4 243.8,108.7 C245.2,111.0 246.0,113.5 247.3,117.0 C248.6,120.5 249.8,124.6 251.4,129.5 C253.0,134.4 254.8,140.5 256.6,146.6 C258.4,152.7 260.4,160.2 262.2,166.0 C264.0,171.8 265.9,177.6 267.7,181.2 C269.5,184.8 271.6,185.9 273.2,187.5 C274.8,189.1 276.0,190.1 277.4,190.5 C278.8,190.9 280.0,190.6 281.6,190.2 C283.2,189.8 285.5,189.3 287.1,188.2 C288.7,187.0 289.8,183.9 291.2,183.3 C292.6,182.7 294.0,184.1 295.4,184.7 C296.8,185.3 298.3,186.5 299.6,186.8 C300.9,187.2 301.9,185.2 303.0,186.8 C304.1,188.4 305.4,193.0 306.5,196.5 C307.6,200.0 308.9,205.1 309.9,207.6 C310.9,210.1 311.6,209.3 312.4,211.5 C313.2,213.7 313.7,217.8 314.8,220.8 C315.9,223.9 317.5,227.3 318.9,229.8 C320.3,232.3 321.6,234.1 323.1,236.0 C324.6,237.9 326.6,240.6 328.0,241.3 C329.4,242.0 330.1,241.5 331.4,240.2 C332.7,238.8 334.3,236.0 335.6,233.2 C336.9,230.4 337.9,227.3 339.0,223.5 C340.1,219.7 341.2,214.6 342.5,210.5 C343.8,206.4 345.2,202.7 346.6,199.0 C348.0,195.3 349.4,191.3 350.8,188.2 C352.2,185.1 353.6,182.9 355.0,180.6 C356.4,178.3 357.7,176.1 359.1,174.3 C360.5,172.5 361.9,169.7 363.4,169.6 C364.9,169.5 366.8,172.4 368.3,173.5 C369.8,174.6 370.9,175.7 372.5,176.3 C374.1,176.9 376.6,176.5 378.0,177.0 C379.4,177.5 379.7,178.3 380.8,179.1 C381.9,179.9 383.8,181.2 384.9,181.9 C386.0,182.6 386.4,183.6 387.7,183.2 C389.0,182.8 391.0,180.4 392.5,179.4 C394.0,178.4 395.2,177.5 396.7,177.4 C398.2,177.3 400.1,178.2 401.6,179.1 C403.1,179.9 404.6,181.3 405.7,182.5 C406.8,183.7 407.6,184.6 408.5,186.0 C409.4,187.4 410.1,189.3 411.2,190.9 C412.3,192.5 414.0,194.2 415.4,195.7 C416.8,197.2 418.1,198.8 419.6,199.9 C421.1,201.1 422.9,201.2 424.4,202.6 C425.9,204.0 426.9,206.7 428.6,208.2 C430.3,209.7 433.3,210.2 434.8,211.6 C436.3,213.0 436.7,213.8 437.6,216.5 C438.5,219.2 439.4,224.1 440.3,227.6 C441.2,231.1 442.0,233.6 443.1,237.3 C444.2,241.0 445.8,246.4 446.9,250.0 C448.0,253.6 448.3,255.9 449.5,258.8 C450.7,261.7 452.7,264.3 453.9,267.5 C455.1,270.7 455.5,273.9 456.5,278.0 C457.5,282.1 459.0,288.4 460.0,292.0 C461.0,295.6 461.4,298.4 462.6,299.9 C463.8,301.4 465.4,300.5 467.0,300.8 C468.6,301.1 470.7,301.3 472.3,301.6 C473.9,301.9 475.4,301.8 476.6,302.5 C477.8,303.2 478.3,306.1 479.3,306.0 C480.3,305.9 481.5,302.9 482.8,301.6 C484.1,300.3 485.8,298.4 487.0,298.0 C488.2,297.6 489.0,297.8 490.3,299.0 C491.6,300.2 493.0,303.2 494.6,305.1 C496.2,307.0 498.3,309.4 499.9,310.4 C501.5,311.4 502.7,311.4 504.3,311.3 C505.9,311.2 507.8,310.8 509.5,309.5 C511.2,308.2 513.0,305.1 514.8,303.4 C516.5,301.6 518.4,300.0 520.0,299.0 C521.6,298.0 522.6,297.5 524.4,297.6 C526.1,297.7 528.6,298.9 530.5,299.4 C532.4,299.9 534.0,299.6 535.8,300.8 C537.5,302.1 539.4,306.3 541.0,306.9 C542.6,307.5 543.8,305.9 545.4,304.6 C547.0,303.3 549.0,300.1 550.6,299.0 C552.2,297.9 553.1,299.6 555.0,298.1 C556.9,296.6 559.8,293.9 562.0,290.0 C564.2,286.1 565.8,280.0 568.0,275.0 C570.2,270.0 572.8,264.4 575.0,260.0 C577.2,255.6 579.4,253.3 581.1,248.6 C582.9,243.9 584.0,237.1 585.5,232.0 C587.0,226.9 588.4,221.8 589.9,218.0 C591.4,214.2 592.8,211.5 594.3,209.3 C595.8,207.1 597.3,206.2 598.6,204.9 C599.9,203.6 600.9,201.9 602.1,201.4 C603.3,200.9 604.1,200.5 605.6,201.7 C607.1,202.9 609.5,205.3 611.3,208.5 C613.1,211.7 614.8,216.5 616.6,221.1 C618.4,225.7 620.0,232.2 621.9,235.9 C623.8,239.6 626.4,241.4 628.3,243.3 C630.2,245.2 631.8,244.9 633.5,247.6 C635.2,250.2 637.0,255.1 638.8,259.2 C640.6,263.2 642.5,268.0 644.1,271.9 C645.7,275.8 646.9,279.3 648.3,282.5 C649.7,285.7 651.2,288.4 652.6,290.9 C654.0,293.4 655.2,295.5 656.8,297.3 C658.4,299.1 660.2,300.3 662.1,301.5 C664.0,302.7 666.2,304.1 668.4,304.7 C670.5,305.3 672.8,304.8 675.0,305.0 C677.2,305.2 679.6,306.3 681.4,305.9 C683.2,305.5 684.3,304.0 685.8,302.4 C687.2,300.8 688.6,298.9 690.1,296.3 C691.6,293.7 693.0,289.8 694.5,286.6 C696.0,283.4 697.3,280.1 698.9,277.0 C700.5,273.9 702.4,270.5 704.1,268.3 C705.9,266.1 707.6,264.9 709.4,263.9 C711.1,262.9 713.0,263.1 714.6,262.1 C716.2,261.1 717.7,259.2 719.0,257.8 C720.3,256.4 721.3,254.7 722.5,253.4 C723.7,252.1 724.8,250.8 726.0,249.9 C727.2,249.0 728.5,248.4 729.7,247.8 C730.9,247.2 731.9,246.2 733.2,246.2 C734.6,246.2 736.2,246.8 737.8,247.8 C739.3,248.9 740.9,250.3 742.5,252.5 C744.1,254.7 745.7,257.4 747.2,260.7 C748.8,264.0 750.0,268.6 751.8,272.3 C753.5,276.0 756.0,280.5 757.7,282.8 C759.5,285.1 760.8,284.6 762.3,286.3 C763.8,288.1 765.4,290.6 767.0,293.3 C768.6,296.0 770.3,300.2 771.7,302.7 C773.1,305.2 774.0,307.3 775.2,308.5 C776.4,309.7 778.5,309.8 779.1,310.1" fill="none" stroke="#00ff00" stroke-width="1" stroke-linejoin="round" shape-rendering="crispEdges"/>
<path d="M71.0,261.3 C71.5,260.7 73.0,258.7 74.2,257.6 C75.4,256.5 77.2,255.7 78.4,254.8 C79.6,253.9 80.3,253.4 81.2,252.0 C82.1,250.6 83.1,248.0 83.9,246.5 C84.7,245.0 85.3,243.7 86.0,243.0 C86.7,242.3 87.4,242.2 88.1,242.3 C88.8,242.4 89.5,242.8 90.2,243.7 C90.9,244.6 91.5,246.1 92.2,247.9 C92.9,249.8 93.6,252.5 94.3,254.8 C95.0,257.1 95.7,259.5 96.4,261.7 C97.1,263.9 97.8,266.1 98.5,268.0 C99.2,269.9 99.9,271.3 100.6,272.8 C101.3,274.3 101.9,275.9 102.6,277.0 C103.3,278.1 104.0,279.2 104.7,279.3 C105.4,279.4 106.1,278.9 106.8,277.7 C107.5,276.5 108.2,274.0 108.9,272.1 C109.6,270.2 110.3,268.2 111.0,266.6 C111.7,265.0 112.3,263.4 113.0,262.4 C113.7,261.4 114.3,261.0 115.1,260.7 C115.9,260.4 117.1,260.4 117.9,260.5 C118.7,260.6 119.2,260.3 120.0,261.3 C120.8,262.3 121.9,265.3 122.7,266.6 C123.5,267.9 124.1,268.6 124.8,269.1 C125.5,269.6 126.3,269.8 127.0,269.5 C127.7,269.2 128.2,269.5 129.0,267.6 C129.8,265.7 130.7,261.4 131.9,257.9 C133.1,254.4 134.6,251.2 136.0,246.8 C137.4,242.4 138.9,236.3 140.2,231.6 C141.5,226.9 142.7,221.7 143.6,218.4 C144.5,215.1 144.7,214.1 145.5,212.0 C146.3,209.9 147.4,208.5 148.4,206.0 C149.4,203.5 150.5,200.1 151.5,197.1 C152.5,194.1 153.5,189.6 154.5,188.0 C155.5,186.4 156.6,188.1 157.6,187.8 C158.6,187.5 159.6,187.1 160.7,186.4 C161.8,185.7 163.0,184.3 164.2,183.4 C165.4,182.5 166.5,182.4 167.8,180.8 C169.1,179.2 170.3,175.8 171.9,173.7 C173.5,171.6 176.0,170.8 177.5,168.1 C179.0,165.4 179.9,160.7 181.1,157.3 C182.3,153.9 183.6,150.2 184.6,147.7 C185.6,145.1 186.3,144.6 187.2,142.0 C188.1,139.4 188.9,135.3 190.0,132.4 C191.1,129.5 192.5,126.2 193.5,124.8 C194.5,123.4 194.7,124.3 196.0,124.2 C197.3,124.1 200.2,124.6 201.6,124.0 C203.0,123.4 203.2,122.3 204.3,120.5 C205.5,118.7 207.1,114.9 208.5,112.9 C209.9,110.9 211.2,110.2 212.6,108.7 C214.0,107.2 215.5,105.6 216.8,103.9 C218.1,102.2 218.9,99.7 220.2,98.7 C221.5,97.7 223.0,98.5 224.4,98.0 C225.8,97.5 227.3,95.0 228.6,95.6 C229.9,96.2 230.8,98.9 232.0,101.8 C233.2,104.7 234.3,109.8 235.5,112.9 C236.7,116.0 237.8,116.8 239.0,120.5 C240.2,124.2 241.3,130.2 242.4,135.0 C243.5,139.8 244.3,144.5 245.5,149.4 C246.7,154.3 248.3,159.5 249.7,164.6 C251.1,169.7 252.5,175.8 253.9,179.9 C255.3,184.0 256.5,186.8 258.0,188.9 C259.5,191.0 260.7,191.7 262.9,192.3 C265.1,192.9 269.0,193.1 271.2,192.3 C273.4,191.5 274.3,188.9 276.0,187.5 C277.7,186.1 280.2,185.2 281.6,184.0 C283.0,182.8 283.5,181.3 284.3,180.6 C285.1,179.9 285.7,178.9 286.4,179.6 C287.1,180.3 287.7,183.6 288.5,184.7 C289.3,185.8 290.1,185.5 291.2,186.1 C292.3,186.7 294.2,186.7 295.4,188.2 C296.6,189.7 297.3,192.1 298.2,195.1 C299.1,198.1 300.0,202.9 300.9,206.2 C301.8,209.5 302.6,211.4 303.7,215.0 C304.8,218.6 306.2,223.5 307.2,227.7 C308.2,231.9 309.0,236.3 309.9,240.2 C310.8,244.1 311.9,249.1 312.7,251.2 C313.5,253.3 314.0,253.2 314.8,252.6 C315.6,252.0 316.5,250.1 317.6,247.8 C318.8,245.5 320.3,242.2 321.7,238.8 C323.1,235.5 324.5,231.8 325.9,227.7 C327.3,223.5 328.5,218.5 330.0,213.9 C331.5,209.3 333.3,204.5 334.9,200.0 C336.5,195.5 338.3,190.4 339.7,186.8 C341.1,183.2 342.0,181.0 343.2,178.5 C344.4,176.0 345.6,173.1 346.6,171.6 C347.6,170.1 348.2,169.7 349.4,169.5 C350.6,169.3 352.2,170.4 353.6,170.2 C355.0,170.0 356.6,168.3 357.7,168.5 C358.8,168.7 359.3,170.2 360.5,171.6 C361.7,173.0 363.4,175.4 364.7,177.0 C366.0,178.6 366.8,180.0 368.3,181.2 C369.8,182.3 372.3,183.8 373.9,183.9 C375.5,184.1 376.5,183.0 378.0,182.1 C379.5,181.2 381.4,179.6 382.9,178.4 C384.4,177.2 385.7,175.8 387.0,174.9 C388.3,174.1 389.2,173.1 390.5,173.3 C391.8,173.5 393.3,175.1 394.6,176.3 C395.9,177.5 396.9,177.7 398.1,180.5 C399.3,183.3 400.5,189.2 401.6,192.9 C402.8,196.6 403.9,200.2 405.0,202.6 C406.1,205.0 407.5,206.3 408.5,207.5 C409.5,208.7 410.2,209.8 411.2,209.6 C412.2,209.4 413.5,207.4 414.7,206.1 C415.9,204.8 417.0,202.4 418.2,201.9 C419.4,201.4 420.5,202.2 421.6,203.3 C422.8,204.4 424.1,206.5 425.1,208.2 C426.2,209.9 427.1,211.4 427.9,213.7 C428.7,216.0 429.2,218.8 429.9,222.0 C430.6,225.2 431.2,228.4 432.0,233.1 C432.8,237.8 433.6,245.4 434.6,250.0 C435.6,254.6 436.9,256.1 438.1,260.5 C439.3,264.9 440.3,272.2 441.6,276.3 C442.9,280.4 444.7,283.8 446.0,285.0 C447.3,286.2 448.5,282.1 449.5,283.3 C450.5,284.5 451.1,288.6 452.1,292.0 C453.1,295.4 454.3,300.0 455.6,303.4 C456.9,306.8 458.8,310.3 460.0,312.1 C461.2,313.9 461.6,315.1 462.6,314.4 C463.6,313.7 464.8,310.9 466.1,307.8 C467.4,304.7 469.2,298.0 470.5,295.5 C471.8,293.0 472.8,293.5 474.0,292.9 C475.2,292.3 476.2,290.5 477.5,291.7 C478.8,292.9 480.6,296.9 481.9,299.9 C483.2,302.9 484.3,307.3 485.4,309.5 C486.5,311.7 487.2,311.4 488.5,313.0 C489.8,314.6 491.4,318.8 492.9,319.1 C494.4,319.4 495.9,316.4 497.3,314.8 C498.8,313.2 500.4,311.8 501.6,309.5 C502.8,307.2 503.4,303.6 504.3,300.8 C505.2,298.0 505.9,294.6 506.9,292.9 C507.9,291.2 509.1,290.2 510.4,290.6 C511.7,291.0 513.2,293.8 514.8,295.5 C516.4,297.2 518.4,299.2 520.0,300.8 C521.6,302.4 522.9,303.9 524.4,305.1 C525.9,306.3 527.2,307.4 528.8,307.8 C530.4,308.2 532.2,308.4 534.0,307.8 C535.8,307.2 537.5,306.4 539.3,304.3 C541.0,302.2 542.9,297.8 544.5,295.5 C546.1,293.2 547.6,291.6 548.9,290.3 C550.2,289.0 551.3,289.3 552.4,287.6 C553.5,285.9 554.2,282.1 555.5,280.0 C556.8,277.9 558.8,278.3 560.1,275.0 C561.5,271.7 562.3,265.0 563.6,260.0 C564.9,255.0 566.5,248.6 568.0,245.1 C569.5,241.6 570.9,241.8 572.4,239.0 C573.9,236.2 575.3,232.0 576.8,228.5 C578.2,225.0 579.8,221.5 581.1,218.0 C582.4,214.5 583.4,210.7 584.6,207.5 C585.8,204.3 587.1,201.4 588.1,198.8 C589.1,196.2 589.6,193.0 590.8,191.8 C592.0,190.6 593.9,190.7 595.1,191.4 C596.3,192.1 596.9,193.4 597.8,196.1 C598.7,198.8 599.4,203.6 600.4,207.5 C601.4,211.4 602.7,216.1 603.9,219.8 C605.1,223.6 606.0,225.9 607.4,230.0 C608.8,234.1 610.7,241.8 612.4,244.4 C614.1,247.0 615.8,244.7 617.7,245.5 C619.6,246.3 622.2,247.8 624.0,249.0 C625.8,250.2 626.9,249.8 628.3,252.9 C629.7,256.0 631.1,262.4 632.5,267.7 C633.9,273.0 635.3,279.3 636.7,284.6 C638.1,289.9 639.5,295.2 640.9,299.4 C642.3,303.6 643.8,308.4 645.2,310.0 C646.6,311.6 647.8,310.7 649.4,308.9 C651.0,307.1 652.9,301.0 654.7,299.4 C656.5,297.8 658.4,298.3 660.0,299.4 C661.6,300.4 662.6,303.6 664.2,305.7 C665.8,307.8 668.0,310.2 669.5,312.0 C671.0,313.8 672.2,317.0 673.5,316.4 C674.8,315.8 675.8,312.1 677.0,308.5 C678.2,304.9 679.3,299.2 680.5,294.5 C681.7,289.8 682.8,284.6 684.0,280.5 C685.2,276.4 686.3,272.6 687.5,270.0 C688.7,267.4 689.5,265.7 691.0,264.8 C692.5,263.9 694.8,264.4 696.3,264.4 C697.8,264.4 698.9,264.3 699.8,264.8 C700.7,265.3 700.6,267.4 701.5,267.4 C702.4,267.4 703.8,266.1 705.0,264.8 C706.2,263.5 707.3,260.8 708.5,259.5 C709.7,258.2 710.8,258.9 712.0,256.9 C713.2,254.9 714.3,250.0 715.5,247.3 C716.7,244.6 717.7,241.7 719.0,240.6 C720.3,239.5 722.1,239.9 723.4,240.6 C724.7,241.3 725.7,242.6 726.9,244.6 C728.1,246.6 729.2,250.0 730.4,252.5 C731.6,255.0 732.7,257.8 733.9,259.5 C735.1,261.2 736.2,261.4 737.4,263.0 C738.6,264.6 739.9,266.3 741.3,268.8 C742.7,271.3 744.6,275.3 746.0,278.2 C747.4,281.1 748.3,283.4 749.5,286.3 C750.7,289.2 751.6,293.4 753.0,295.7 C754.4,298.0 756.0,298.9 757.7,300.3 C759.5,301.7 761.8,302.4 763.5,303.8 C765.2,305.2 766.8,306.6 768.2,308.5 C769.6,310.4 770.5,313.6 771.7,315.5 C772.9,317.4 774.0,319.0 775.2,320.2 C776.4,321.4 778.5,322.1 779.1,322.5" fill="none" stroke="#ff0000" stroke-width="1" stroke-linejoin="round" shape-rendering="crispEdges"/>
<path d="M71.0,255.2 C71.4,254.7 72.6,253.3 73.5,252.0 C74.4,250.7 75.4,248.8 76.3,247.2 C77.2,245.6 78.2,243.7 79.1,242.3 C80.0,240.9 81.0,239.6 81.9,238.9 C82.8,238.2 83.7,238.3 84.4,238.4 C85.1,238.5 85.5,238.5 86.0,239.5 C86.5,240.5 86.9,242.0 87.4,244.4 C87.9,246.8 88.3,250.9 88.8,254.1 C89.3,257.3 89.7,260.6 90.2,263.8 C90.7,267.0 91.2,270.5 91.8,273.5 C92.4,276.5 92.9,279.9 93.6,281.8 C94.2,283.7 95.0,284.2 95.7,284.6 C96.4,285.0 97.1,284.8 97.8,283.9 C98.5,283.0 99.2,281.0 99.9,279.0 C100.6,277.0 101.3,274.6 102.0,272.1 C102.7,269.6 103.5,266.5 104.3,263.8 C105.0,261.1 105.7,258.2 106.5,256.2 C107.3,254.2 108.3,252.8 108.9,252.0 C109.5,251.2 109.8,251.1 110.3,251.3 C110.8,251.5 111.5,252.0 112.1,253.4 C112.7,254.8 113.1,257.2 113.7,259.6 C114.3,262.0 115.1,265.6 115.8,268.0 C116.5,270.4 117.2,272.8 117.9,274.2 C118.6,275.6 119.3,276.5 120.0,276.5 C120.7,276.5 121.3,275.6 122.0,274.2 C122.7,272.8 123.4,270.9 124.1,268.0 C124.8,265.1 125.5,260.4 126.2,256.9 C126.9,253.4 127.5,250.0 128.0,247.2 C128.5,244.4 128.1,242.7 129.0,239.9 C129.9,237.1 131.7,233.3 133.2,230.2 C134.7,227.1 136.9,224.6 138.1,221.2 C139.3,217.8 139.2,214.0 140.2,210.0 C141.2,206.0 143.0,200.9 144.3,197.1 C145.6,193.2 146.7,189.4 147.9,186.9 C149.1,184.4 150.2,182.2 151.5,182.3 C152.8,182.4 154.5,186.2 155.6,187.4 C156.7,188.6 157.2,189.5 158.1,189.5 C158.9,189.5 159.8,189.2 160.7,187.4 C161.5,185.6 162.3,181.9 163.2,178.8 C164.1,175.7 165.2,171.0 166.3,168.6 C167.4,166.2 168.6,164.4 169.8,164.5 C171.0,164.6 172.4,169.9 173.4,169.1 C174.4,168.2 175.2,163.2 176.0,159.4 C176.8,155.6 177.9,149.3 178.5,146.1 C179.1,142.9 178.9,143.5 179.5,140.0 C180.1,136.5 181.4,128.7 182.2,125.3 C183.0,121.9 183.5,120.6 184.2,119.8 C184.9,119.0 185.6,119.3 186.5,120.5 C187.4,121.7 188.8,125.2 189.8,126.7 C190.8,128.2 191.6,129.7 192.5,129.5 C193.4,129.3 194.0,127.8 195.3,125.3 C196.6,122.8 198.7,117.2 200.2,114.3 C201.7,111.4 202.9,109.4 204.3,108.0 C205.7,106.6 207.1,107.0 208.5,106.0 C209.9,105.0 211.2,103.6 212.6,101.8 C214.0,100.0 215.8,96.3 216.8,94.9 C217.9,93.5 218.1,93.4 218.9,93.2 C219.7,93.0 220.7,93.2 221.6,93.8 C222.5,94.4 223.5,95.7 224.4,97.0 C225.3,98.3 226.3,99.1 227.2,101.8 C228.1,104.5 228.9,109.0 229.9,112.9 C230.9,116.8 232.4,120.7 233.4,125.3 C234.4,129.9 234.5,135.6 235.7,140.7 C236.9,145.8 239.4,151.7 240.6,155.9 C241.8,160.1 241.9,162.3 242.8,166.0 C243.7,169.7 244.8,174.1 246.2,177.8 C247.6,181.5 249.6,185.5 251.1,188.2 C252.6,190.8 253.8,192.5 255.2,193.7 C256.6,194.8 258.0,195.6 259.4,195.1 C260.8,194.6 262.1,191.6 263.5,190.9 C264.9,190.2 266.3,191.6 267.5,190.9 C268.7,190.2 269.3,187.8 270.5,186.8 C271.7,185.8 273.5,185.7 274.6,184.7 C275.8,183.7 276.5,181.8 277.4,180.6 C278.3,179.4 279.4,177.7 280.2,177.5 C281.0,177.3 281.3,177.9 282.2,179.2 C283.1,180.5 284.6,183.0 285.7,185.4 C286.8,187.8 287.4,191.4 288.5,193.7 C289.6,196.0 291.3,197.3 292.6,199.3 C293.9,201.3 295.2,202.6 296.1,205.5 C297.0,208.4 297.4,211.8 298.2,216.6 C299.0,221.4 300.2,228.9 300.9,234.6 C301.6,240.3 302.0,247.5 302.5,251.0 C303.0,254.5 303.5,254.5 304.0,255.5 C304.5,256.5 304.9,257.0 305.5,257.2 C306.1,257.4 306.8,257.3 307.5,256.8 C308.2,256.3 308.9,254.9 309.5,254.0 C310.1,253.1 310.7,252.8 311.3,251.2 C311.9,249.6 312.6,246.8 313.4,244.3 C314.2,241.8 315.3,238.8 316.2,236.0 C317.1,233.2 317.8,230.9 318.9,227.7 C320.0,224.5 321.9,219.6 323.1,216.6 C324.3,213.6 325.0,212.5 325.9,209.7 C326.8,206.9 327.8,203.1 328.6,200.0 C329.4,196.9 330.0,194.2 330.7,190.9 C331.4,187.6 332.0,183.0 332.8,179.9 C333.6,176.8 334.5,173.6 335.6,172.2 C336.8,170.8 338.4,171.7 339.7,171.6 C341.0,171.5 342.0,171.9 343.2,171.6 C344.4,171.2 345.7,170.0 346.6,169.5 C347.5,169.0 347.6,168.6 348.7,168.5 C349.8,168.4 351.6,167.8 352.9,168.8 C354.2,169.8 355.1,172.0 356.3,174.3 C357.5,176.6 358.6,180.4 359.8,182.6 C361.0,184.8 362.2,187.4 363.4,187.4 C364.6,187.4 365.4,183.2 366.9,182.5 C368.4,181.8 370.9,183.1 372.5,183.2 C374.1,183.3 375.2,183.8 376.6,183.0 C378.0,182.2 379.7,180.4 380.8,178.4 C381.9,176.4 382.6,172.4 383.5,170.8 C384.4,169.2 385.4,168.8 386.3,169.1 C387.2,169.4 388.2,170.8 389.1,172.9 C390.0,175.0 390.9,178.3 391.9,181.9 C392.9,185.5 394.1,190.2 395.3,194.3 C396.5,198.5 397.5,203.5 398.8,206.8 C400.1,210.1 401.8,213.3 402.9,214.0 C404.0,214.7 404.6,212.8 405.7,210.9 C406.8,209.0 408.2,205.0 409.2,202.6 C410.2,200.2 411.0,197.9 411.9,196.4 C412.8,194.9 413.9,193.0 414.7,193.6 C415.5,194.2 415.9,197.0 416.8,199.9 C417.7,202.8 419.1,207.0 420.2,210.9 C421.3,214.8 422.5,218.8 423.7,223.4 C424.9,228.0 426.0,232.4 427.2,238.6 C428.4,244.8 430.0,254.2 431.1,260.5 C432.2,266.8 433.0,271.9 433.8,276.3 C434.6,280.7 435.3,285.7 436.0,287.1 C436.7,288.6 437.3,286.7 438.1,285.0 C438.9,283.3 439.8,277.5 440.8,277.1 C441.8,276.7 443.3,280.5 444.3,282.4 C445.3,284.3 446.2,285.1 446.9,288.5 C447.6,291.9 447.7,296.7 448.6,302.5 C449.5,308.3 451.1,319.1 452.1,323.5 C453.1,327.9 453.9,329.7 454.8,329.1 C455.7,328.5 456.5,324.7 457.4,320.0 C458.3,315.3 459.1,305.9 460.0,300.8 C460.9,295.7 461.7,291.9 462.6,289.4 C463.5,286.9 464.3,285.3 465.3,285.9 C466.3,286.5 467.6,290.6 468.8,292.9 C470.0,295.2 471.1,298.4 472.3,299.9 C473.5,301.3 474.5,300.0 475.8,301.6 C477.1,303.2 478.8,306.0 480.1,309.5 C481.4,313.0 482.6,320.1 483.6,322.6 C484.6,325.1 485.5,324.3 486.3,324.4 C487.1,324.5 487.7,324.2 488.5,323.0 C489.3,321.8 490.1,320.8 491.1,317.4 C492.1,314.0 493.4,306.0 494.6,302.5 C495.8,299.0 496.8,298.4 498.1,296.4 C499.4,294.4 501.2,291.9 502.5,290.3 C503.8,288.8 504.8,286.8 506.0,287.1 C507.2,287.4 508.3,289.7 509.5,292.0 C510.7,294.3 511.8,297.9 513.0,300.8 C514.2,303.7 515.3,308.6 516.5,309.5 C517.7,310.4 518.7,306.9 520.0,306.4 C521.3,305.9 522.8,305.6 524.4,306.4 C526.0,307.2 528.1,311.2 529.6,311.3 C531.1,311.4 531.9,309.2 533.1,306.9 C534.3,304.6 535.4,300.5 536.6,297.3 C537.8,294.1 538.8,289.2 540.1,287.6 C541.4,286.0 543.0,287.5 544.5,287.6 C546.0,287.8 547.6,289.9 548.9,288.5 C550.2,287.1 551.1,283.6 552.4,278.9 C553.7,274.1 555.3,265.8 556.6,260.0 C557.9,254.2 558.8,248.5 560.1,244.3 C561.4,240.1 563.0,236.3 564.5,234.6 C566.0,232.9 567.6,235.3 568.9,234.1 C570.2,232.9 571.4,230.3 572.4,227.6 C573.4,224.9 574.1,221.9 575.0,218.0 C575.9,214.1 576.6,208.7 577.6,204.0 C578.6,199.3 580.1,193.2 581.1,190.0 C582.1,186.8 582.9,185.1 583.8,184.8 C584.7,184.5 585.4,186.6 586.4,188.3 C587.4,190.1 588.9,193.3 589.9,195.3 C590.9,197.3 591.6,197.6 592.5,200.5 C593.4,203.4 594.2,209.3 595.1,212.8 C596.0,216.3 596.8,217.1 597.8,221.5 C598.8,225.9 600.1,235.5 601.3,239.0 C602.5,242.5 603.3,240.5 605.0,242.3 C606.7,244.1 609.5,249.3 611.3,249.7 C613.1,250.0 614.0,245.1 615.6,244.4 C617.2,243.7 619.3,243.7 620.9,245.5 C622.5,247.3 623.9,250.9 625.1,255.0 C626.3,259.1 627.2,264.9 628.3,269.8 C629.3,274.7 630.3,279.3 631.4,284.6 C632.5,289.9 633.5,296.8 634.6,301.5 C635.7,306.2 636.7,310.6 637.8,313.1 C638.9,315.6 640.2,317.6 641.4,316.7 C642.6,315.8 643.9,311.8 645.2,307.8 C646.5,303.9 648.0,296.4 649.4,293.0 C650.8,289.6 652.2,286.6 653.6,287.7 C655.0,288.8 656.5,295.0 657.9,299.4 C659.3,303.8 660.7,310.8 662.1,314.2 C663.5,317.6 665.0,320.2 666.3,320.1 C667.6,320.0 669.0,316.0 670.0,313.8 C671.0,311.6 671.7,310.3 672.6,306.8 C673.5,303.3 674.4,298.1 675.3,292.8 C676.2,287.6 677.0,280.0 677.9,275.3 C678.8,270.6 679.6,267.3 680.5,264.8 C681.4,262.3 682.1,260.7 683.1,260.4 C684.1,260.1 685.3,262.1 686.6,263.0 C687.9,263.9 689.5,264.9 691.0,265.6 C692.5,266.3 693.9,267.3 695.4,267.0 C696.9,266.7 698.3,265.3 699.8,263.9 C701.2,262.5 702.8,260.8 704.1,258.6 C705.4,256.4 706.4,254.3 707.6,250.8 C708.8,247.3 709.9,240.7 711.1,237.6 C712.3,234.5 713.6,232.7 714.6,232.4 C715.6,232.1 716.4,233.9 717.3,235.9 C718.2,237.9 719.0,241.8 719.9,244.6 C720.8,247.4 721.6,249.9 722.5,252.5 C723.4,255.1 724.1,258.8 725.1,260.4 C726.1,261.9 727.1,261.0 728.5,261.8 C729.9,262.6 731.7,263.4 733.2,265.3 C734.8,267.2 736.2,270.2 737.8,273.5 C739.3,276.8 741.1,280.7 742.5,285.2 C743.9,289.7 744.8,296.6 746.0,300.3 C747.2,304.0 748.5,306.3 749.5,307.3 C750.5,308.3 750.8,307.8 751.8,306.2 C752.8,304.6 754.1,299.0 755.3,298.0 C756.5,297.0 757.6,298.6 758.8,300.3 C760.0,302.1 761.1,305.4 762.3,308.5 C763.5,311.6 764.4,316.7 765.8,319.0 C767.2,321.3 769.1,322.1 770.5,322.5 C771.9,322.9 773.0,321.4 774.0,321.3 C775.0,321.2 775.5,319.2 776.5,321.7 C777.5,324.2 779.2,334.0 779.8,336.5" fill="none" stroke="#0000ff" stroke-width="1" stroke-linejoin="round" shape-rendering="crispEdges"/>
<text x="873.5" y="178" font-family="Liberation Sans, Arial, sans-serif" font-size="12" font-weight="normal" fill="#0000ff" text-anchor="end">0.6600</text>
<text x="873.5" y="293" font-family="Liberation Sans, Arial, sans-serif" font-size="12" font-weight="normal" fill="#0000ff" text-anchor="end">0.6500</text>
<text x="873.5" y="392" font-family="Liberation Sans, Arial, sans-serif" font-size="12" font-weight="normal" fill="#0000ff" text-anchor="end">0.6414</text>
<text x="873.5" y="408" font-family="Liberation Sans, Arial, sans-serif" font-size="12" font-weight="normal" fill="#0000ff" text-anchor="end">0.6400</text>
<rect x="217" y="61" width="7" height="1" fill="#000"/>
<rect x="219" y="59" width="1" height="4" fill="#000"/>
<rect x="441" y="365" width="7" height="1" fill="#000"/>
<rect x="443" y="363" width="1" height="4" fill="#000"/>
<rect x="777" y="386" width="7" height="1" fill="#000"/>
<rect x="779" y="384" width="1" height="4" fill="#000"/>
<text x="224.5" y="58" font-family="Liberation Sans, Arial, sans-serif" font-size="12.3" fill="#e8505f" stroke="#e8505f" stroke-width="0.35">0.6706</text>
<text x="448.5" y="377" font-family="Liberation Sans, Arial, sans-serif" font-size="12.3" fill="#52b788" stroke="#52b788" stroke-width="0.35">0.6440</text>
<text x="784.5" y="398" font-family="Liberation Sans, Arial, sans-serif" font-size="12.3" fill="#52b788" stroke="#52b788" stroke-width="0.35">0.6422</text>
<polyline points="71.0,457.5 76.5,457.5 78.1,464.1 79.4,475.5 80.2,487.7 81.1,498.2 82.0,510.4 82.9,519.2 83.4,525.3 84.1,512.2 84.6,501.7 85.5,494.3 86.9,494.7 89.3,498.2 91.6,493.8 93.9,489.4 95.6,479.0 97.4,470.6 98.9,476.3 100.9,475.8 102.4,485.9 103.8,490.8 105.6,492.9 107.9,499.9 109.4,506.9 111.4,499.1 113.1,492.9 115.2,490.3 117.0,479.8 118.3,468.5 119.6,457.6 121.3,463.2 123.6,473.7 125.7,472.8 127.4,470.2 129.5,452.7 131.3,448.4 133.0,459.7 135.3,456.2 137.6,452.7 139.7,447.5 141.4,444.9 142.8,456.2 144.9,466.7 147.5,476.3 149.3,472.8 151.6,456.2 153.3,470.2 155.4,459.7 157.5,457.1 159.8,465.0 162.4,466.7 165.2,469.0 166.7,462.3 168.1,449.2 169.4,438.7 171.6,437.3 173.2,435.2 174.6,443.1 176.0,452.7 177.6,462.3 179.3,468.1 181.6,465.8 183.9,462.3 185.6,457.1 187.4,451.3 189.1,457.1 191.2,453.6 193.5,452.7 195.6,450.1 197.3,454.5 199.4,462.3 201.7,460.6 203.5,456.2 205.2,445.7 207.5,443.1 209.6,447.5 211.3,457.1 213.1,465.8 214.3,462.3 215.7,458.8 216.0,466.7 217.1,477.2 218.3,489.4 220.1,496.4 221.3,498.2 222.7,508.7 223.6,515.7 225.3,507.8 227.1,512.2 228.8,520.9 230.6,526.2 233.2,527.9 234.9,531.4 236.7,534.0 237.6,530.5 239.3,541.9 240.5,534.9 241.9,531.4 243.7,534.9 245.4,537.5 247.5,523.5 249.8,522.3 251.5,520.0 253.3,522.7 255.6,514.8 257.3,515.7 259.4,529.7 260.8,512.2 262.0,501.7 263.6,496.4 265.5,500.8 267.2,505.2 269.3,509.5 270.4,489.4 271.6,481.2 272.8,486.8 274.2,492.9 275.6,506.9 277.4,519.2 279.5,511.3 281.2,501.7 283.3,497.3 285.3,496.4 286.5,505.2 287.9,520.9 289.1,533.1 290.8,534.9 293.1,535.8 295.6,531.4 297.5,537.0 299.1,531.4 300.8,520.0 302.2,517.4 303.6,519.2 305.4,505.2 307.1,494.7 308.9,492.9 311.3,495.6 313.0,489.4 315.3,486.8 317.6,485.9 318.8,467.6 320.0,459.7 322.8,456.2 325.3,451.9 327.0,460.6 329.3,470.2 331.4,473.4 332.8,466.7 335.1,459.7 336.8,469.3 338.2,472.8 339.8,471.1 341.5,478.1 342.9,470.2 345.4,465.0 346.8,477.2 348.0,487.7 349.4,497.3 351.5,494.7 353.8,489.4 355.5,499.9 357.3,484.2 359.7,482.8 361.5,481.0 362.9,489.4 365.0,493.8 367.1,488.6 368.5,491.2 370.2,484.2 372.0,474.6 374.1,471.1 375.5,472.0 376.9,479.8 378.1,482.4 379.0,480.7 380.4,489.4 381.6,506.9 383.3,509.5 385.6,511.3 387.7,516.5 389.5,521.8 391.2,529.7 393.5,534.5 394.7,513.9 395.6,506.9 397.3,506.0 399.1,499.1 400.8,490.3 402.6,481.6 403.5,474.6 404.3,482.4 405.6,501.7 407.0,485.9 407.8,479.8 408.7,490.3 409.6,519.2 411.3,513.9 413.1,506.0 414.8,504.3 417.1,509.5 419.2,511.3 420.6,527.9 421.8,543.6 423.6,544.5 424.8,527.9 426.5,515.7 428.5,512.2 430.0,513.9 431.4,519.2 433.5,508.7 434.9,511.3 436.7,510.4 438.1,513.9 440.2,525.3 441.9,534.9 443.3,539.3 444.5,517.4 445.9,510.4 447.5,511.3 448.9,506.9 450.7,499.9 453.3,493.8 455.6,497.3 457.1,496.1 458.8,496.1 460.2,501.7 461.6,508.7 463.4,507.8 465.5,497.3 467.2,499.9 469.0,505.2 470.7,509.5 472.8,510.8 474.6,513.9 476.0,518.3 477.4,525.3 478.6,515.7 479.8,506.9 481.2,501.7 482.6,496.4 483.8,490.3 485.6,487.3 487.3,489.4 489.1,492.9 490.8,496.4 492.1,487.7 493.5,480.7 495.2,479.0 497.5,473.4 498.7,485.9 500.1,495.6 501.3,502.6 503.1,496.4 505.3,498.2 507.4,500.8 509.2,503.1 511.3,490.8 513.6,495.0 515.3,499.9 517.6,494.7 519.3,498.2 521.1,496.4 522.8,502.6 524.1,492.9 525.5,480.7 527.2,483.3 529.3,478.1 531.6,476.3 533.3,476.9 535.4,489.4 537.2,495.6 538.6,487.7 539.8,475.8 541.5,485.1 543.3,483.3 545.0,472.0 546.3,467.1 547.7,465.0 548.9,456.2 550.3,451.3 552.6,450.3 555.5,450.5 559.0,445.7 560.4,458.0 561.6,470.2 562.8,462.3 564.2,448.4 565.6,442.6 566.9,447.5 569.5,440.5 571.6,443.1 573.9,444.0 575.6,441.4 577.3,435.2 578.2,446.6 578.7,466.7 579.6,477.2 580.8,468.5 582.6,465.8 584.3,473.7 585.7,487.7 587.0,506.9 588.7,496.4 591.3,494.3 593.4,495.6 595.7,501.7 599.2,508.3 601.3,505.2 603.6,500.8 605.3,499.6 607.6,486.8 609.0,496.4 610.6,502.6 612.8,504.3 614.9,505.7 617.2,508.7 618.4,515.7 620.2,529.7 621.9,535.8 624.6,536.6 626.8,538.4 628.4,541.9 629.4,548.9 630.3,534.9 631.2,527.9 632.1,523.5 633.3,526.2 635.6,521.8 637.3,501.7 639.4,500.3 642.0,499.2 643.4,499.1 645.5,494.3 647.3,497.3 648.7,513.9 649.5,523.0 651.5,520.9 653.6,521.8 655.9,518.3 658.1,513.9 659.9,510.8 661.1,512.2 662.3,506.9 663.7,494.7 665.1,480.7 666.4,472.0 668.1,465.8 669.5,461.5 671.3,471.1 672.5,466.7 674.2,464.1 676.0,467.6 677.7,477.2 679.5,486.8 681.2,485.9 683.0,472.8 684.7,475.5 686.8,479.8 689.4,485.9 690.8,481.6 692.6,476.9 694.9,472.8 697.0,468.5 698.7,466.7 699.9,467.6 700.9,453.6 702.6,452.7 703.8,454.5 705.2,444.0 706.1,450.1 707.0,465.0 707.9,472.0 709.1,475.5 710.1,484.2 711.4,495.6 712.6,489.4 714.0,486.3 715.4,488.6 716.6,499.9 717.5,504.3 719.2,496.4 720.6,487.7 721.9,485.1 723.3,490.3 724.5,499.9 725.3,503.4 727.1,500.3 728.8,503.4 730.6,508.7 732.3,510.4 734.1,515.7 735.8,520.9 737.6,526.2 739.3,532.3 740.6,519.2 742.0,506.9 743.7,499.9 745.8,499.6 747.6,503.4 749.3,513.0 751.6,516.5 754.2,520.0 755.9,521.8 757.3,537.5 758.2,527.9 759.4,515.7 761.2,514.3 763.3,514.3 765.6,508.7 767.3,500.3 768.2,508.7 769.4,524.4 770.8,534.0 772.0,531.4 773.4,520.6 775.5,525.3 777.3,529.7 778.7,532.3" fill="none" stroke="#3cb0e4" stroke-width="1" stroke-linejoin="round" shape-rendering="crispEdges"/>
<polyline points="71.0,591.6 76.5,591.6 78.1,597.2 79.4,606.7 80.2,616.9 81.1,625.7 82.0,635.9 82.9,643.3 83.4,648.4 84.1,637.4 84.6,628.6 85.5,622.4 86.9,622.8 89.3,625.7 91.6,622.0 93.9,618.3 95.6,609.6 97.4,602.6 98.9,607.4 100.9,606.9 102.4,615.4 103.8,619.5 105.6,621.3 107.9,627.1 109.4,633.0 111.4,626.4 113.1,621.3 115.2,619.1 117.0,610.3 118.3,600.8 119.6,591.7 121.3,596.4 123.6,605.2 125.7,604.4 127.4,602.3 129.5,587.6 131.3,584.0 133.0,593.5 135.3,590.6 137.6,587.6 139.7,583.3 141.4,581.1 142.8,590.6 144.9,599.3 147.5,607.4 149.3,604.4 151.6,590.6 153.3,602.3 155.4,593.5 157.5,591.3 159.8,597.9 162.4,599.3 165.2,601.3 166.7,595.7 168.1,584.7 169.4,575.9 171.6,574.7 173.2,573.0 174.6,579.6 176.0,587.6 177.6,595.7 179.3,600.5 181.6,598.6 183.9,595.7 185.6,591.3 187.4,586.5 189.1,591.3 191.2,588.4 193.5,587.6 195.6,585.4 197.3,589.1 199.4,595.7 201.7,594.2 203.5,590.6 205.2,581.8 207.5,579.6 209.6,583.3 211.3,591.3 213.1,598.6 214.3,595.7 215.7,592.7 216.0,599.3 217.1,608.1 218.3,618.3 220.1,624.2 221.3,625.7 222.7,634.5 223.6,640.3 225.3,633.7 227.1,637.4 228.8,644.7 230.6,649.1 233.2,650.5 234.9,653.5 236.7,655.6 237.6,652.7 239.3,662.2 240.5,656.4 241.9,653.5 243.7,656.4 245.4,658.6 247.5,646.8 249.8,645.8 251.5,643.9 253.3,646.2 255.6,639.6 257.3,640.3 259.4,652.0 260.8,637.4 262.0,628.6 263.6,624.2 265.5,627.9 267.2,631.5 269.3,635.1 270.4,618.3 271.6,611.5 272.8,616.1 274.2,621.3 275.6,633.0 277.4,643.3 279.5,636.6 281.2,628.6 283.3,624.9 285.3,624.2 286.5,631.5 287.9,644.7 289.1,654.9 290.8,656.4 293.1,657.1 295.6,653.5 297.5,658.1 299.1,653.5 300.8,643.9 302.2,641.7 303.6,643.3 305.4,631.5 307.1,622.8 308.9,621.3 311.3,623.5 313.0,618.3 315.3,616.1 317.6,615.4 318.8,600.1 320.0,593.5 322.8,590.6 325.3,587.0 327.0,594.2 329.3,602.3 331.4,604.9 332.8,599.3 335.1,593.5 336.8,601.5 338.2,604.4 339.8,603.0 341.5,608.9 342.9,602.3 345.4,597.9 346.8,608.1 348.0,616.9 349.4,624.9 351.5,622.8 353.8,618.3 355.5,627.1 357.3,614.0 359.7,612.8 361.5,611.3 362.9,618.3 365.0,622.0 367.1,617.7 368.5,619.8 370.2,614.0 372.0,605.9 374.1,603.0 375.5,603.8 376.9,610.3 378.1,612.5 379.0,611.0 380.4,618.3 381.6,633.0 383.3,635.1 385.6,636.6 387.7,641.0 389.5,645.4 391.2,652.0 393.5,656.0 394.7,638.8 395.6,633.0 397.3,632.2 399.1,626.4 400.8,619.1 402.6,611.8 403.5,605.9 404.3,612.5 405.6,628.6 407.0,615.4 407.8,610.3 408.7,619.1 409.6,643.3 411.3,638.8 413.1,632.2 414.8,630.8 417.1,635.1 419.2,636.6 420.6,650.5 421.8,663.7 423.6,664.4 424.8,650.5 426.5,640.3 428.5,637.4 430.0,638.8 431.4,643.3 433.5,634.5 434.9,636.6 436.7,635.9 438.1,638.8 440.2,648.4 441.9,656.4 443.3,660.1 444.5,641.7 445.9,635.9 447.5,636.6 448.9,633.0 450.7,627.1 453.3,622.0 455.6,624.9 457.1,623.9 458.8,623.9 460.2,628.6 461.6,634.5 463.4,633.7 465.5,624.9 467.2,627.1 469.0,631.5 470.7,635.1 472.8,636.2 474.6,638.8 476.0,642.5 477.4,648.4 478.6,640.3 479.8,633.0 481.2,628.6 482.6,624.2 483.8,619.1 485.6,616.6 487.3,618.3 489.1,621.3 490.8,624.2 492.1,616.9 493.5,611.0 495.2,609.6 497.5,604.9 498.7,615.4 500.1,623.5 501.3,629.4 503.1,624.2 505.3,625.7 507.4,627.9 509.2,629.8 511.3,619.5 513.6,623.0 515.3,627.1 517.6,622.8 519.3,625.7 521.1,624.2 522.8,629.4 524.1,621.3 525.5,611.0 527.2,613.2 529.3,608.9 531.6,607.4 533.3,607.9 535.4,618.3 537.2,623.5 538.6,616.9 539.8,606.9 541.5,614.7 543.3,613.2 545.0,603.8 546.3,599.7 547.7,597.9 548.9,590.6 550.3,586.5 552.6,585.6 555.5,585.8 559.0,581.8 560.4,592.1 561.6,602.3 562.8,595.7 564.2,584.0 565.6,579.2 566.9,583.3 569.5,577.4 571.6,579.6 573.9,580.3 575.6,578.2 577.3,573.0 578.2,582.5 578.7,599.3 579.6,608.1 580.8,600.8 582.6,598.6 584.3,605.2 585.7,616.9 587.0,633.0 588.7,624.2 591.3,622.4 593.4,623.5 595.7,628.6 599.2,634.1 601.3,631.5 603.6,627.9 605.3,626.9 607.6,616.1 609.0,624.2 610.6,629.4 612.8,630.8 614.9,632.0 617.2,634.5 618.4,640.3 620.2,652.0 621.9,657.1 624.6,657.8 626.8,659.3 628.4,662.2 629.4,668.1 630.3,656.4 631.2,650.5 632.1,646.8 633.3,649.1 635.6,645.4 637.3,628.6 639.4,627.4 642.0,626.5 643.4,626.4 645.5,622.4 647.3,624.9 648.7,638.8 649.5,646.4 651.5,644.7 653.6,645.4 655.9,642.5 658.1,638.8 659.9,636.2 661.1,637.4 662.3,633.0 663.7,622.8 665.1,611.0 666.4,603.8 668.1,598.6 669.5,595.0 671.3,603.0 672.5,599.3 674.2,597.2 676.0,600.1 677.7,608.1 679.5,616.1 681.2,615.4 683.0,604.4 684.7,606.7 686.8,610.3 689.4,615.4 690.8,611.8 692.6,607.9 694.9,604.4 697.0,600.8 698.7,599.3 699.9,600.1 700.9,588.4 702.6,587.6 703.8,589.1 705.2,580.3 706.1,585.4 707.0,597.9 707.9,603.8 709.1,606.7 710.1,614.0 711.4,623.5 712.6,618.3 714.0,615.7 715.4,617.7 716.6,627.1 717.5,630.8 719.2,624.2 720.6,616.9 721.9,614.7 723.3,619.1 724.5,627.1 725.3,630.0 727.1,627.4 728.8,630.0 730.6,634.5 732.3,635.9 734.1,640.3 735.8,644.7 737.6,649.1 739.3,654.2 740.6,643.3 742.0,633.0 743.7,627.1 745.8,626.9 747.6,630.0 749.3,638.1 751.6,641.0 754.2,643.9 755.9,645.4 757.3,658.6 758.2,650.5 759.4,640.3 761.2,639.2 763.3,639.2 765.6,634.5 767.3,627.4 768.2,634.5 769.4,647.6 770.8,655.6 772.0,653.5 773.4,644.4 775.5,648.4 777.3,652.0 778.7,654.2" fill="none" stroke="#3cb0e4" stroke-width="1" stroke-linejoin="round" shape-rendering="crispEdges"/>
<path d="M942,376.5 H874.5 V393.5 H942" fill="#fff" stroke="#ff7f00" stroke-width="1"/>
<text x="877" y="389" font-family="Liberation Sans, Arial, sans-serif" font-size="12.5" font-weight="normal" fill="#ff7f00" text-anchor="start">0.6430</text>
<path d="M934.3,372 L937.9,368 L941.5,372 Z M934.3,376.5 L937.9,371.6 L941.5,376.5 Z" fill="#ff7f00"/>
<text x="70" y="14.8" font-family="Liberation Sans, Noto Sans CJK SC, sans-serif" font-size="12.2" fill="#111" stroke="#111" stroke-width="0.15">澳元美元<tspan fill="#ff7f00" stroke="#ff7f00">【<tspan dy="-0.8">240</tspan><tspan dy="0.8">分】</tspan></tspan></text>
<g fill="none" stroke="#ff7f00" stroke-width="1"><circle cx="180.8" cy="11.8" r="3.8"/><line x1="177" y1="11.8" x2="184.6" y2="11.8"/><line x1="180.8" y1="8" x2="180.8" y2="15.6"/></g>
<g fill="#000080"><rect x="194" y="1" width="10" height="1"/><rect x="194" y="13" width="10" height="1"/><rect x="193" y="2" width="1" height="11"/><rect x="204" y="2" width="1" height="11"/></g>
<g fill="#b8b8b0"><rect x="205" y="3" width="1" height="11"/><rect x="195" y="14" width="10" height="1"/></g>
<polyline points="194.5,8.5 197.5,4.5 200.5,7.5 202.5,5.5 203.5,5.5" fill="none" stroke="#f00" stroke-width="1" shape-rendering="crispEdges"/>
<polyline points="194.5,11.5 197.5,7.5 200.5,10.5 202.5,8.5 203.5,8.5" fill="none" stroke="#00f" stroke-width="1" shape-rendering="crispEdges"/>
<text x="208" y="14" font-family="Liberation Sans, Arial, sans-serif" font-size="12" font-weight="normal" fill="#111" text-anchor="start">ALLIGAT</text>
<text x="260.5" y="14.8" font-family="Liberation Sans, Noto Sans CJK SC, sans-serif" font-size="12.2" fill="#0000ff">上唇<tspan dy="-0.8">:0.6465</tspan></text>
<text x="332.5" y="14.8" font-family="Liberation Sans, Noto Sans CJK SC, sans-serif" font-size="12.2" fill="#ff0000">牙齿<tspan dy="-0.8">:0.6477</tspan></text>
<text x="405.5" y="14.8" font-family="Liberation Sans, Noto Sans CJK SC, sans-serif" font-size="12.2" fill="#00ee00">下颚<tspan dy="-0.8">:0.6487</tspan></text>
<text x="71" y="427" font-family="Liberation Sans, Arial, sans-serif" font-size="12" font-weight="normal" fill="#222" text-anchor="start">RSI(14,14,14)</text>
<text x="150.5" y="427" font-family="Liberation Sans, Arial, sans-serif" font-size="12" font-weight="normal" fill="#3d8ef5" text-anchor="start">RSI1:31.7093</text>
<text x="232.3" y="427" font-family="Liberation Sans, Arial, sans-serif" font-size="12" font-weight="normal" fill="#3cbf7a" text-anchor="start">RSI2:31.7093</text>
<text x="315" y="427" font-family="Liberation Sans, Arial, sans-serif" font-size="12" font-weight="normal" fill="#3cb0e4" text-anchor="start">RSI3:31.7093</text>
<text x="71" y="565" font-family="Liberation Sans, Arial, sans-serif" font-size="12" font-weight="normal" fill="#222" text-anchor="start">RSI(14,14,14)</text>
<text x="150.5" y="565" font-family="Liberation Sans, Arial, sans-serif" font-size="12" font-weight="normal" fill="#3d8ef5" text-anchor="start">RSI1:31.7093</text>
<text x="232.3" y="565" font-family="Liberation Sans, Arial, sans-serif" font-size="12" font-weight="normal" fill="#3cbf7a" text-anchor="start">RSI2:31.7093</text>
<text x="315" y="565" font-family="Liberation Sans, Arial, sans-serif" font-size="12" font-weight="normal" fill="#3cb0e4" text-anchor="start">RSI3:31.7093</text>
<g fill="#000"><rect x="6" y="554" width="4" height="1"/><rect x="6" y="561" width="4" height="1"/><rect x="4" y="556" width="1" height="4"/><rect x="11" y="556" width="1" height="4"/><rect x="5" y="555" width="1" height="1"/><rect x="10" y="555" width="1" height="1"/><rect x="5" y="560" width="1" height="1"/><rect x="10" y="560" width="1" height="1"/></g>
<g fill="#ff0000"><rect x="7" y="556" width="2" height="4"/><rect x="6" y="557" width="4" height="2"/><rect x="7" y="551" width="1" height="2"/><rect x="7" y="563" width="1" height="2"/><rect x="1" y="557" width="2" height="1"/><rect x="13" y="557" width="2" height="1"/><rect x="2" y="552" width="1" height="1"/><rect x="3" y="553" width="1" height="1"/><rect x="12" y="553" width="1" height="1"/><rect x="13" y="552" width="1" height="1"/><rect x="3" y="562" width="1" height="1"/><rect x="2" y="563" width="1" height="1"/><rect x="12" y="562" width="1" height="1"/><rect x="13" y="563" width="1" height="1"/></g>
<rect x="811.5" y="1.5" width="13" height="13" fill="#fff" stroke="#1272c6" stroke-width="1" shape-rendering="crispEdges"/>
<g fill="#1272c6"><rect x="817" y="3" width="2" height="3"/><rect x="817" y="7" width="2" height="2"/><rect x="817" y="10" width="2" height="3"/><rect x="813" y="7" width="3" height="2"/><rect x="820" y="7" width="3" height="2"/></g>
<rect x="827.5" y="1.5" width="13" height="13" fill="#fff" stroke="#1272c6" stroke-width="1" shape-rendering="crispEdges"/>
<g fill="#1272c6"><rect x="830" y="3" width="1" height="10"/><rect x="829" y="4" width="3" height="1"/><rect x="829" y="11" width="10" height="1"/><rect x="837" y="10" width="1" height="3"/><rect x="830" y="12" width="1" height="1"/></g>
<g fill="#1272c6"><rect x="833" y="4" width="1" height="6"/><path d="M834.3,6.9 L837,3.8 L837,10 Z"/></g>
<rect x="843.5" y="1.5" width="13" height="13" fill="#1272c6" stroke="#1272c6" stroke-width="1" shape-rendering="crispEdges"/>
<g fill="#fff"><rect x="846" y="3" width="1" height="10"/><rect x="845" y="4" width="3" height="1"/><rect x="845" y="11" width="10" height="1"/><rect x="853" y="10" width="1" height="3"/><rect x="846" y="12" width="1" height="1"/></g>
<path d="M849,4 L854.2,7.4 L849,10.8 Z" fill="#fff"/>
<rect x="859.5" y="1.5" width="13" height="13" fill="#fff" stroke="#1272c6" stroke-width="1" shape-rendering="crispEdges"/>
<g fill="#1272c6"><rect x="861.5" y="3.5" width="3" height="9" fill="none" stroke="#1272c6" stroke-width="1" shape-rendering="crispEdges"/><rect x="863" y="7" width="5" height="2"/><path d="M867,5 L870.6,8 L867,11 Z"/></g>
<text x="9.5" y="684" font-family="Liberation Sans, Noto Sans CJK SC, sans-serif" font-size="12.5" font-weight="bold" fill="#ff7f00">240分</text>
<path d="M47.7,684 L55.7,684 L51.7,675.8 Z" fill="#ff7f00"/>
<rect x="73" y="670" width="1" height="5" fill="#c8d0d8"/>
<text x="75" y="682" font-family="Liberation Sans, Arial, sans-serif" font-size="12" font-weight="bold" fill="#1c2b45" text-anchor="start">09/02</text>
<rect x="217" y="670" width="1" height="5" fill="#c8d0d8"/>
<text x="219" y="682" font-family="Liberation Sans, Arial, sans-serif" font-size="12" font-weight="bold" fill="#1c2b45" text-anchor="start">09/18</text>
<rect x="361" y="670" width="1" height="5" fill="#c8d0d8"/>
<text x="363" y="682" font-family="Liberation Sans, Arial, sans-serif" font-size="12" font-weight="bold" fill="#1c2b45" text-anchor="start">10/04</text>
<rect x="505" y="670" width="1" height="5" fill="#c8d0d8"/>
<text x="507" y="682" font-family="Liberation Sans, Arial, sans-serif" font-size="12" font-weight="bold" fill="#1c2b45" text-anchor="start">10/22</text>
<rect x="649" y="670" width="1" height="5" fill="#c8d0d8"/>
<text x="651" y="682" font-family="Liberation Sans, Arial, sans-serif" font-size="12" font-weight="bold" fill="#1c2b45" text-anchor="start">11/07</text>
<text x="815.5" y="662" font-family="Liberation Sans, Arial, sans-serif" font-size="31" letter-spacing="2.2" fill="#b09078" opacity="0.6">FX678</text>
<text x="814.5" y="661" font-family="Liberation Sans, Arial, sans-serif" font-size="31" letter-spacing="2.2" fill="#d6e4f3">FX678</text>
</svg></body></html>
